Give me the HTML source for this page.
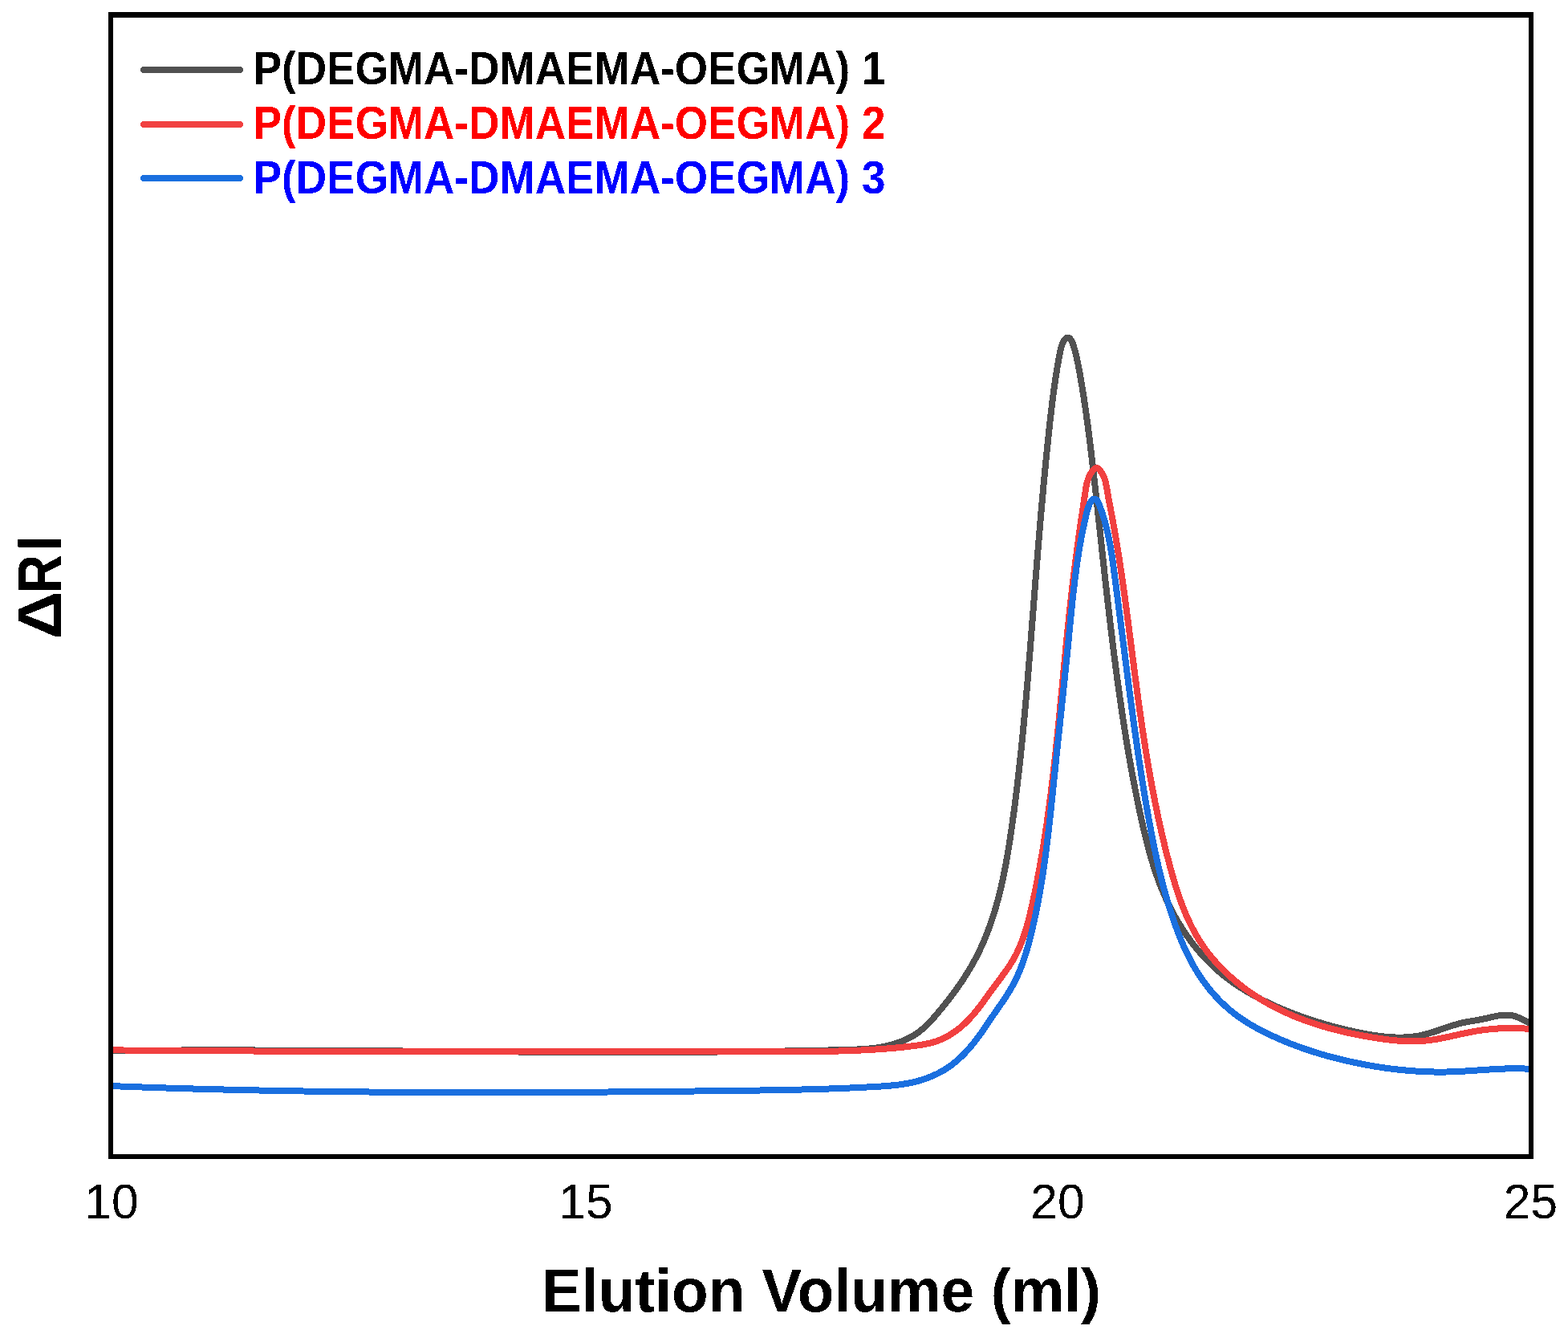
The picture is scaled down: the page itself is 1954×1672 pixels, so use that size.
<!DOCTYPE html>
<html><head><meta charset="utf-8"><title>GPC elution traces</title>
<style>
html,body{margin:0;padding:0;background:#fff;}
body{width:1954px;height:1672px;overflow:hidden;}
svg{display:block;}
text{font-family:"Liberation Sans",Arial,sans-serif;}
</style></head><body>
<svg width="1954" height="1672" viewBox="0 0 1954 1672">
<rect x="0" y="0" width="1954" height="1672" fill="#fff"/>
<defs><clipPath id="pa"><rect x="141" y="22" width="1764" height="1416"/></clipPath>
<filter id="bin" filterUnits="userSpaceOnUse" x="0" y="0" width="1954" height="1672" color-interpolation-filters="sRGB"><feComponentTransfer><feFuncA type="discrete" tableValues="0 1"/></feComponentTransfer></filter></defs>
<g clip-path="url(#pa)" shape-rendering="crispEdges" fill="none" stroke-width="8" stroke-linejoin="round" stroke-linecap="round">
<path d="M120.04,1309.22L122.04,1309.20L124.03,1309.18L126.03,1309.16L128.03,1309.13L130.03,1309.11L132.02,1309.09L134.02,1309.07L136.02,1309.05L138.01,1309.03L140.01,1309.01L142.01,1309.00L144.01,1308.98L146.00,1308.96L148.00,1308.94L150.00,1308.92L151.99,1308.91L153.99,1308.89L155.99,1308.87L157.99,1308.86L159.98,1308.84L161.98,1308.83L163.98,1308.81L165.98,1308.80L167.98,1308.78L169.97,1308.77L171.97,1308.75L173.97,1308.74L175.97,1308.73L177.96,1308.71L179.96,1308.70L181.96,1308.69L183.96,1308.68L185.96,1308.67L187.95,1308.65L189.95,1308.64L191.95,1308.63L193.95,1308.62L195.95,1308.61L197.94,1308.60L199.94,1308.59L201.94,1308.58L203.94,1308.58L205.94,1308.57L207.94,1308.56L209.93,1308.55L211.93,1308.54L213.93,1308.54L215.93,1308.53L217.93,1308.52L219.93,1308.52L221.93,1308.51L223.92,1308.50L225.92,1308.50L227.92,1308.49L229.92,1308.49L231.92,1308.48L233.92,1308.48L235.92,1308.47L237.92,1308.47L239.91,1308.46L241.91,1308.46L243.91,1308.46L245.91,1308.45L247.91,1308.45L249.91,1308.45L251.91,1308.45L253.91,1308.44L255.91,1308.44L257.90,1308.44L259.90,1308.44L261.90,1308.44L263.90,1308.44L265.90,1308.44L267.90,1308.44L269.90,1308.44L271.90,1308.44L273.90,1308.44L275.90,1308.44L277.90,1308.44L279.90,1308.44L281.90,1308.44L283.89,1308.44L285.89,1308.44L287.89,1308.44L289.89,1308.45L291.89,1308.45L293.89,1308.45L295.89,1308.45L297.89,1308.46L299.89,1308.46L301.89,1308.46L303.89,1308.47L305.89,1308.47L307.89,1308.47L309.89,1308.48L311.89,1308.48L313.89,1308.49L315.89,1308.49L317.89,1308.50L319.89,1308.50L321.89,1308.51L323.89,1308.51L325.89,1308.52L327.89,1308.52L329.89,1308.53L331.89,1308.53L333.89,1308.54L335.89,1308.55L337.89,1308.55L339.89,1308.56L341.89,1308.57L343.89,1308.57L345.89,1308.58L347.89,1308.59L349.89,1308.60L351.89,1308.60L353.89,1308.61L355.89,1308.62L357.89,1308.63L359.89,1308.64L361.89,1308.65L363.89,1308.65L365.89,1308.66L367.89,1308.67L369.89,1308.68L371.89,1308.69L373.89,1308.70L375.89,1308.71L377.89,1308.72L379.89,1308.73L381.89,1308.74L383.89,1308.75L385.89,1308.76L387.89,1308.77L389.89,1308.78L391.89,1308.79L393.89,1308.80L395.89,1308.81L397.89,1308.82L399.89,1308.83L401.90,1308.85L403.90,1308.86L405.90,1308.87L407.90,1308.88L409.90,1308.89L411.90,1308.90L413.90,1308.91L415.90,1308.93L417.90,1308.94L419.90,1308.95L421.90,1308.96L423.90,1308.98L425.90,1308.99L427.90,1309.00L429.90,1309.01L431.90,1309.03L433.90,1309.04L435.91,1309.05L437.91,1309.06L439.91,1309.08L441.91,1309.09L443.91,1309.10L445.91,1309.12L447.91,1309.13L449.91,1309.14L451.91,1309.16L453.91,1309.17L455.91,1309.18L457.91,1309.20L459.91,1309.21L461.92,1309.22L463.92,1309.24L465.92,1309.25L467.92,1309.27L469.92,1309.28L471.92,1309.29L473.92,1309.31L475.92,1309.32L477.92,1309.34L479.92,1309.35L481.92,1309.36L483.92,1309.38L485.93,1309.39L487.93,1309.41L489.93,1309.42L491.93,1309.44L493.93,1309.45L495.93,1309.47L497.93,1309.48L499.93,1309.49L501.93,1309.51L503.93,1309.52L505.93,1309.54L507.94,1309.55L509.94,1309.57L511.94,1309.58L513.94,1309.60L515.94,1309.61L517.94,1309.63L519.94,1309.64L521.94,1309.65L523.94,1309.67L525.94,1309.68L527.94,1309.70L529.95,1309.71L531.95,1309.73L533.95,1309.74L535.95,1309.76L537.95,1309.77L539.95,1309.79L541.95,1309.80L543.95,1309.82L545.95,1309.83L547.95,1309.85L549.96,1309.86L551.96,1309.87L553.96,1309.89L555.96,1309.90L557.96,1309.92L559.96,1309.93L561.96,1309.95L563.96,1309.96L565.96,1309.98L567.96,1309.99L569.96,1310.00L571.97,1310.02L573.97,1310.03L575.97,1310.05L577.97,1310.06L579.97,1310.07L581.97,1310.09L583.97,1310.10L585.97,1310.12L587.97,1310.13L589.97,1310.14L591.97,1310.16L593.98,1310.17L595.98,1310.18L597.98,1310.20L599.98,1310.21L601.98,1310.23L603.98,1310.24L605.98,1310.25L607.98,1310.26L609.98,1310.28L611.98,1310.29L613.98,1310.30L615.98,1310.32L617.99,1310.33L619.99,1310.34L621.99,1310.35L623.99,1310.37L625.99,1310.38L627.99,1310.39L629.99,1310.40L631.99,1310.42L633.99,1310.43L635.99,1310.44L637.99,1310.45L639.99,1310.46L641.99,1310.48L644.00,1310.49L646.00,1310.50L648.00,1310.51L650.00,1310.52L652.00,1310.53L654.00,1310.54L656.00,1310.55L658.00,1310.57L660.00,1310.58L662.00,1310.59L664.00,1310.60L666.00,1310.61L668.00,1310.62L670.00,1310.63L672.00,1310.64L674.00,1310.65L676.01,1310.66L678.01,1310.67L680.01,1310.68L682.01,1310.68L684.01,1310.69L686.01,1310.70L688.01,1310.71L690.01,1310.72L692.01,1310.73L694.01,1310.74L696.01,1310.75L698.01,1310.75L700.01,1310.76L702.01,1310.77L704.01,1310.78L706.01,1310.78L708.01,1310.79L710.01,1310.80L712.01,1310.80L714.01,1310.81L716.01,1310.82L718.01,1310.82L720.01,1310.83L722.01,1310.84L724.01,1310.84L726.01,1310.85L728.01,1310.85L730.01,1310.86L732.01,1310.86L734.01,1310.87L736.01,1310.87L738.01,1310.88L740.01,1310.88L742.01,1310.89L744.01,1310.89L746.01,1310.89L748.01,1310.90L750.01,1310.90L752.01,1310.90L754.01,1310.91L756.01,1310.91L758.01,1310.91L760.01,1310.92L762.01,1310.92L764.01,1310.92L766.01,1310.92L768.01,1310.92L770.01,1310.92L772.01,1310.93L774.01,1310.93L776.01,1310.93L778.01,1310.93L780.01,1310.93L782.01,1310.93L784.01,1310.93L786.01,1310.93L788.01,1310.93L790.01,1310.92L792.01,1310.92L794.01,1310.92L796.01,1310.92L798.01,1310.92L800.01,1310.92L802.01,1310.91L804.00,1310.91L806.00,1310.91L808.00,1310.90L810.00,1310.90L812.00,1310.90L814.00,1310.89L816.00,1310.89L818.00,1310.88L820.00,1310.88L822.00,1310.87L824.00,1310.87L826.00,1310.86L827.99,1310.86L829.99,1310.85L831.99,1310.84L833.99,1310.84L835.99,1310.83L837.99,1310.82L839.99,1310.82L841.99,1310.81L843.99,1310.80L845.98,1310.79L847.98,1310.78L849.98,1310.77L851.98,1310.76L853.98,1310.76L855.98,1310.75L857.98,1310.74L859.98,1310.72L861.97,1310.71L863.97,1310.70L865.97,1310.69L867.97,1310.68L869.97,1310.67L871.97,1310.66L873.96,1310.64L875.96,1310.63L877.96,1310.62L879.96,1310.60L881.96,1310.59L883.96,1310.57L885.95,1310.56L887.95,1310.55L889.95,1310.53L891.95,1310.51L893.95,1310.50L895.94,1310.48L897.94,1310.47L899.94,1310.45L901.94,1310.43L903.94,1310.41L905.93,1310.40L907.93,1310.38L909.93,1310.36L911.93,1310.34L913.93,1310.32L915.92,1310.30L917.92,1310.28L919.92,1310.26L921.92,1310.24L923.91,1310.22L925.91,1310.20L927.91,1310.18L929.91,1310.15L931.90,1310.13L933.90,1310.11L935.90,1310.09L937.89,1310.06L939.89,1310.04L941.89,1310.01L943.89,1309.99L945.88,1309.96L947.88,1309.94L949.88,1309.91L951.87,1309.89L953.87,1309.86L955.87,1309.83L957.87,1309.80L959.86,1309.78L961.86,1309.75L963.86,1309.72L965.85,1309.69L967.85,1309.66L969.85,1309.63L971.84,1309.60L973.84,1309.57L975.84,1309.54L977.83,1309.51L979.83,1309.48L981.83,1309.44L983.82,1309.41L985.82,1309.38L987.81,1309.35L989.81,1309.31L991.81,1309.28L993.80,1309.24L995.80,1309.21L997.79,1309.17L999.79,1309.14L1001.79,1309.10L1003.78,1309.06L1005.78,1309.02L1007.77,1308.99L1009.77,1308.95L1011.77,1308.91L1013.76,1308.87L1015.76,1308.83L1017.75,1308.79L1019.75,1308.75L1021.74,1308.71L1023.74,1308.67L1025.74,1308.63L1027.73,1308.58L1029.73,1308.54L1031.72,1308.50L1033.72,1308.46L1035.71,1308.41L1037.71,1308.37L1039.70,1308.32L1041.70,1308.28L1043.69,1308.23L1045.69,1308.18L1047.68,1308.14L1049.68,1308.09L1051.67,1308.04L1053.67,1307.99L1055.66,1307.94L1057.66,1307.89L1059.65,1307.84L1061.64,1307.77L1063.64,1307.71L1065.63,1307.64L1067.62,1307.55L1069.61,1307.46L1071.60,1307.37L1073.59,1307.25L1075.58,1307.13L1077.56,1307.00L1079.55,1306.85L1081.53,1306.68L1083.52,1306.50L1085.50,1306.30L1087.47,1306.08L1089.45,1305.84L1091.43,1305.59L1093.40,1305.31L1095.37,1305.00L1097.34,1304.68L1099.30,1304.33L1101.27,1303.95L1103.23,1303.55L1105.19,1303.11L1107.14,1302.65L1109.10,1302.16L1111.05,1301.64L1112.99,1301.08L1114.94,1300.50L1116.88,1299.87L1118.81,1299.22L1120.75,1298.52L1122.68,1297.79L1124.60,1297.02L1126.51,1296.21L1128.40,1295.37L1130.28,1294.50L1132.13,1293.58L1133.96,1292.63L1135.77,1291.65L1137.54,1290.63L1139.27,1289.58L1140.97,1288.49L1142.63,1287.37L1144.25,1286.22L1145.83,1285.04L1147.38,1283.83L1148.89,1282.59L1150.38,1281.32L1151.84,1280.03L1153.27,1278.71L1154.68,1277.37L1156.06,1276.01L1157.43,1274.63L1158.77,1273.23L1160.10,1271.81L1161.42,1270.38L1162.72,1268.93L1164.01,1267.46L1165.30,1265.98L1166.57,1264.50L1167.84,1263.00L1169.11,1261.49L1170.38,1259.97L1171.65,1258.45L1172.91,1256.92L1174.17,1255.38L1175.43,1253.83L1176.69,1252.28L1177.94,1250.72L1179.18,1249.15L1180.43,1247.57L1181.67,1245.99L1182.90,1244.40L1184.13,1242.80L1185.35,1241.19L1186.57,1239.58L1187.78,1237.96L1188.98,1236.33L1190.18,1234.70L1191.37,1233.06L1192.55,1231.42L1193.73,1229.76L1194.89,1228.10L1196.05,1226.44L1197.20,1224.77L1198.34,1223.09L1199.47,1221.40L1200.59,1219.71L1201.70,1218.02L1202.80,1216.32L1203.89,1214.61L1204.96,1212.90L1206.03,1211.18L1207.08,1209.45L1208.13,1207.72L1209.16,1205.99L1210.17,1204.24L1211.18,1202.50L1212.17,1200.75L1213.14,1198.99L1214.10,1197.23L1215.05,1195.46L1215.99,1193.69L1216.91,1191.91L1217.82,1190.13L1218.72,1188.35L1219.60,1186.56L1220.47,1184.76L1221.33,1182.96L1222.18,1181.15L1223.01,1179.35L1223.83,1177.53L1224.64,1175.71L1225.44,1173.89L1226.23,1172.07L1227.00,1170.23L1227.76,1168.40L1228.52,1166.56L1229.26,1164.72L1229.99,1162.87L1230.70,1161.02L1231.41,1159.16L1232.11,1157.31L1232.79,1155.44L1233.47,1153.58L1234.14,1151.71L1234.79,1149.83L1235.44,1147.96L1236.07,1146.08L1236.70,1144.19L1237.31,1142.31L1237.92,1140.41L1238.52,1138.52L1239.11,1136.62L1239.69,1134.72L1240.26,1132.82L1240.82,1130.91L1241.37,1129.01L1241.91,1127.09L1242.45,1125.18L1242.97,1123.26L1243.49,1121.34L1244.00,1119.42L1244.51,1117.49L1245.00,1115.56L1245.49,1113.63L1245.97,1111.70L1246.44,1109.76L1246.91,1107.83L1247.36,1105.89L1247.82,1103.94L1248.26,1102.00L1248.70,1100.05L1249.13,1098.10L1249.55,1096.15L1249.97,1094.20L1250.38,1092.24L1250.79,1090.29L1251.19,1088.33L1251.58,1086.37L1251.97,1084.41L1252.35,1082.44L1252.73,1080.48L1253.10,1078.51L1253.47,1076.55L1253.83,1074.58L1254.19,1072.61L1254.54,1070.63L1254.89,1068.66L1255.23,1066.69L1255.57,1064.71L1255.91,1062.74L1256.24,1060.76L1256.56,1058.78L1256.88,1056.80L1257.20,1054.82L1257.52,1052.84L1257.83,1050.86L1258.14,1048.88L1258.45,1046.90L1258.75,1044.91L1259.05,1042.93L1259.34,1040.95L1259.64,1038.96L1259.93,1036.98L1260.22,1034.99L1260.51,1033.01L1260.79,1031.02L1261.07,1029.04L1261.35,1027.05L1261.63,1025.07L1261.91,1023.08L1262.19,1021.10L1262.46,1019.11L1262.73,1017.13L1263.00,1015.14L1263.27,1013.16L1263.53,1011.17L1263.80,1009.18L1264.06,1007.20L1264.32,1005.21L1264.58,1003.23L1264.84,1001.24L1265.09,999.26L1265.34,997.27L1265.60,995.28L1265.85,993.30L1266.10,991.31L1266.34,989.32L1266.59,987.34L1266.83,985.35L1267.07,983.37L1267.31,981.38L1267.55,979.39L1267.79,977.41L1268.02,975.42L1268.26,973.43L1268.49,971.45L1268.72,969.46L1268.95,967.47L1269.18,965.48L1269.41,963.50L1269.63,961.51L1269.86,959.52L1270.08,957.54L1270.30,955.55L1270.52,953.56L1270.74,951.57L1270.95,949.59L1271.17,947.60L1271.38,945.61L1271.60,943.62L1271.81,941.64L1272.02,939.65L1272.23,937.66L1272.43,935.67L1272.64,933.68L1272.85,931.70L1273.05,929.71L1273.25,927.72L1273.45,925.73L1273.65,923.74L1273.85,921.76L1274.05,919.77L1274.25,917.78L1274.44,915.79L1274.64,913.80L1274.83,911.81L1275.03,909.82L1275.22,907.83L1275.41,905.85L1275.60,903.86L1275.79,901.87L1275.97,899.88L1276.16,897.89L1276.35,895.90L1276.53,893.91L1276.71,891.92L1276.90,889.93L1277.08,887.94L1277.26,885.95L1277.44,883.96L1277.62,881.97L1277.80,879.98L1277.98,877.99L1278.15,876.00L1278.33,874.01L1278.50,872.02L1278.68,870.03L1278.85,868.04L1279.02,866.05L1279.20,864.06L1279.37,862.07L1279.54,860.08L1279.71,858.09L1279.88,856.10L1280.05,854.11L1280.22,852.12L1280.38,850.13L1280.55,848.14L1280.72,846.14L1280.88,844.15L1281.05,842.16L1281.21,840.17L1281.38,838.18L1281.54,836.19L1281.70,834.20L1281.87,832.20L1282.03,830.21L1282.19,828.22L1282.35,826.23L1282.51,824.24L1282.67,822.24L1282.83,820.25L1282.99,818.26L1283.15,816.27L1283.31,814.28L1283.47,812.28L1283.63,810.29L1283.79,808.30L1283.95,806.31L1284.10,804.31L1284.26,802.32L1284.42,800.33L1284.57,798.33L1284.73,796.34L1284.89,794.35L1285.04,792.36L1285.20,790.36L1285.35,788.37L1285.51,786.37L1285.67,784.38L1285.82,782.39L1285.98,780.39L1286.13,778.40L1286.29,776.41L1286.44,774.41L1286.60,772.42L1286.75,770.42L1286.91,768.43L1287.06,766.44L1287.22,764.44L1287.37,762.45L1287.53,760.45L1287.68,758.46L1287.84,756.46L1287.99,754.47L1288.15,752.47L1288.31,750.48L1288.46,748.48L1288.62,746.49L1288.77,744.49L1288.93,742.50L1289.08,740.50L1289.24,738.51L1289.40,736.51L1289.55,734.52L1289.71,732.52L1289.87,730.53L1290.03,728.53L1290.18,726.54L1290.34,724.54L1290.50,722.54L1290.66,720.55L1290.81,718.55L1290.97,716.56L1291.13,714.56L1291.29,712.57L1291.45,710.57L1291.61,708.58L1291.77,706.58L1291.93,704.58L1292.09,702.59L1292.25,700.59L1292.41,698.60L1292.57,696.60L1292.73,694.61L1292.90,692.61L1293.06,690.62L1293.22,688.62L1293.38,686.63L1293.55,684.63L1293.71,682.64L1293.87,680.64L1294.04,678.65L1294.20,676.65L1294.37,674.66L1294.53,672.66L1294.70,670.67L1294.87,668.67L1295.03,666.68L1295.20,664.68L1295.37,662.69L1295.54,660.69L1295.70,658.70L1295.87,656.70L1296.04,654.71L1296.21,652.72L1296.38,650.72L1296.56,648.73L1296.73,646.73L1296.90,644.74L1297.07,642.75L1297.25,640.75L1297.42,638.76L1297.59,636.77L1297.77,634.77L1297.94,632.78L1298.12,630.79L1298.30,628.80L1298.47,626.80L1298.65,624.81L1298.83,622.82L1299.01,620.83L1299.19,618.83L1299.37,616.84L1299.55,614.85L1299.73,612.86L1299.91,610.87L1300.10,608.88L1300.28,606.89L1300.46,604.90L1300.65,602.91L1300.83,600.92L1301.02,598.93L1301.21,596.94L1301.40,594.95L1301.58,592.96L1301.77,590.97L1301.96,588.98L1302.15,586.99L1302.35,585.00L1302.54,583.01L1302.73,581.02L1302.93,579.04L1303.12,577.05L1303.32,575.06L1303.51,573.07L1303.71,571.09L1303.91,569.10L1304.11,567.11L1304.30,565.13L1304.51,563.14L1304.71,561.15L1304.91,559.17L1305.11,557.18L1305.32,555.20L1305.52,553.21L1305.73,551.23L1305.93,549.25L1306.14,547.26L1306.35,545.28L1306.56,543.29L1306.77,541.31L1306.98,539.33L1307.19,537.35L1307.40,535.36L1307.62,533.38L1307.83,531.40L1308.05,529.42L1308.27,527.44L1308.49,525.46L1308.71,523.48L1308.93,521.50L1309.15,519.52L1309.38,517.54L1309.61,515.56L1309.84,513.58L1310.07,511.60L1310.30,509.62L1310.54,507.64L1310.77,505.66L1311.02,503.68L1311.26,501.70L1311.51,499.72L1311.76,497.74L1312.01,495.76L1312.26,493.78L1312.52,491.80L1312.78,489.83L1313.05,487.85L1313.32,485.87L1313.59,483.89L1313.87,481.91L1314.15,479.93L1314.43,477.94L1314.72,475.96L1315.01,473.98L1315.31,472.00L1315.61,470.02L1315.91,468.04L1316.22,466.06L1316.54,464.07L1316.86,462.09L1317.18,460.11L1317.51,458.12L1317.84,456.14L1318.18,454.16L1318.53,452.17L1318.88,450.18L1319.23,448.20L1319.60,446.21L1319.96,444.23L1320.34,442.24L1320.71,440.25L1321.10,438.26L1321.51,436.28L1321.96,434.31L1322.48,432.37L1323.08,430.46L1323.78,428.59L1324.61,426.77L1325.59,425.01L1326.73,423.32L1328.04,421.78L1329.49,420.73L1331.04,420.53L1332.61,421.25L1334.05,422.62L1335.23,424.33L1336.14,426.22L1336.88,428.20L1337.54,430.20L1338.18,432.20L1338.77,434.18L1339.34,436.16L1339.88,438.13L1340.40,440.09L1340.89,442.05L1341.36,444.01L1341.81,445.95L1342.24,447.90L1342.65,449.84L1343.05,451.78L1343.44,453.72L1343.81,455.66L1344.18,457.60L1344.55,459.54L1344.90,461.48L1345.26,463.42L1345.61,465.36L1345.96,467.31L1346.30,469.26L1346.65,471.20L1346.98,473.15L1347.32,475.11L1347.65,477.06L1347.98,479.01L1348.31,480.97L1348.63,482.93L1348.95,484.89L1349.27,486.85L1349.58,488.81L1349.89,490.77L1350.20,492.73L1350.51,494.70L1350.81,496.67L1351.11,498.63L1351.41,500.60L1351.70,502.57L1351.99,504.54L1352.28,506.52L1352.57,508.49L1352.86,510.46L1353.14,512.44L1353.42,514.41L1353.70,516.39L1353.98,518.37L1354.25,520.35L1354.52,522.33L1354.79,524.31L1355.06,526.29L1355.32,528.27L1355.59,530.26L1355.85,532.24L1356.11,534.22L1356.37,536.21L1356.62,538.20L1356.88,540.18L1357.13,542.17L1357.38,544.16L1357.63,546.15L1357.88,548.13L1358.13,550.12L1358.37,552.11L1358.62,554.10L1358.86,556.09L1359.10,558.08L1359.34,560.08L1359.58,562.07L1359.82,564.06L1360.05,566.05L1360.29,568.04L1360.52,570.04L1360.76,572.03L1360.99,574.02L1361.22,576.02L1361.45,578.01L1361.68,580.00L1361.91,582.00L1362.13,583.99L1362.36,585.98L1362.59,587.98L1362.81,589.97L1363.04,591.96L1363.26,593.96L1363.49,595.95L1363.71,597.94L1363.94,599.93L1364.16,601.93L1364.38,603.92L1364.60,605.91L1364.83,607.90L1365.05,609.90L1365.27,611.89L1365.49,613.88L1365.71,615.87L1365.93,617.86L1366.15,619.85L1366.37,621.84L1366.59,623.84L1366.81,625.83L1367.02,627.82L1367.24,629.81L1367.46,631.80L1367.68,633.79L1367.90,635.78L1368.11,637.77L1368.33,639.76L1368.55,641.75L1368.76,643.74L1368.98,645.73L1369.20,647.72L1369.41,649.71L1369.63,651.70L1369.85,653.69L1370.06,655.68L1370.28,657.67L1370.50,659.65L1370.71,661.64L1370.93,663.63L1371.14,665.62L1371.36,667.61L1371.57,669.60L1371.79,671.58L1372.01,673.57L1372.22,675.56L1372.44,677.55L1372.65,679.54L1372.87,681.52L1373.09,683.51L1373.30,685.50L1373.52,687.49L1373.74,689.47L1373.95,691.46L1374.17,693.45L1374.39,695.43L1374.60,697.42L1374.82,699.41L1375.04,701.39L1375.26,703.38L1375.48,705.37L1375.69,707.35L1375.91,709.34L1376.13,711.32L1376.35,713.31L1376.57,715.30L1376.79,717.28L1377.01,719.27L1377.23,721.25L1377.45,723.24L1377.67,725.22L1377.89,727.21L1378.12,729.19L1378.34,731.18L1378.56,733.16L1378.78,735.15L1379.01,737.13L1379.23,739.12L1379.46,741.10L1379.68,743.09L1379.91,745.07L1380.13,747.06L1380.36,749.04L1380.59,751.02L1380.81,753.01L1381.04,754.99L1381.27,756.98L1381.50,758.96L1381.73,760.94L1381.96,762.93L1382.19,764.91L1382.42,766.89L1382.66,768.88L1382.89,770.86L1383.12,772.84L1383.36,774.83L1383.59,776.81L1383.83,778.79L1384.06,780.78L1384.30,782.76L1384.54,784.74L1384.78,786.72L1385.02,788.71L1385.26,790.69L1385.50,792.67L1385.74,794.65L1385.98,796.64L1386.23,798.62L1386.47,800.60L1386.72,802.58L1386.96,804.56L1387.21,806.55L1387.46,808.53L1387.71,810.51L1387.96,812.49L1388.21,814.47L1388.46,816.46L1388.71,818.44L1388.97,820.42L1389.22,822.40L1389.48,824.38L1389.73,826.36L1389.99,828.34L1390.25,830.32L1390.51,832.31L1390.77,834.29L1391.03,836.27L1391.30,838.25L1391.56,840.23L1391.83,842.21L1392.09,844.19L1392.36,846.17L1392.63,848.15L1392.90,850.13L1393.17,852.11L1393.44,854.09L1393.72,856.07L1393.99,858.05L1394.27,860.03L1394.54,862.01L1394.82,863.99L1395.10,865.97L1395.38,867.95L1395.67,869.93L1395.95,871.91L1396.23,873.89L1396.52,875.87L1396.81,877.85L1397.10,879.83L1397.39,881.81L1397.68,883.79L1397.97,885.77L1398.27,887.75L1398.56,889.73L1398.86,891.71L1399.16,893.69L1399.46,895.67L1399.76,897.65L1400.07,899.63L1400.37,901.60L1400.68,903.58L1400.99,905.56L1401.30,907.54L1401.61,909.52L1401.92,911.49L1402.24,913.47L1402.56,915.45L1402.87,917.42L1403.19,919.40L1403.52,921.38L1403.84,923.35L1404.16,925.33L1404.49,927.30L1404.82,929.28L1405.15,931.25L1405.48,933.23L1405.82,935.20L1406.15,937.18L1406.49,939.15L1406.83,941.12L1407.17,943.10L1407.51,945.07L1407.86,947.04L1408.21,949.01L1408.56,950.98L1408.91,952.95L1409.26,954.92L1409.62,956.89L1409.97,958.86L1410.33,960.83L1410.69,962.80L1411.06,964.77L1411.42,966.74L1411.79,968.71L1412.16,970.67L1412.53,972.64L1412.91,974.61L1413.28,976.57L1413.66,978.54L1414.04,980.50L1414.42,982.47L1414.81,984.43L1415.19,986.39L1415.58,988.36L1415.97,990.32L1416.37,992.28L1416.76,994.24L1417.16,996.20L1417.56,998.16L1417.97,1000.12L1418.37,1002.08L1418.78,1004.04L1419.19,1005.99L1419.60,1007.95L1420.02,1009.91L1420.44,1011.86L1420.86,1013.82L1421.28,1015.77L1421.70,1017.72L1422.13,1019.68L1422.56,1021.63L1422.99,1023.58L1423.43,1025.53L1423.87,1027.48L1424.31,1029.43L1424.76,1031.37L1425.21,1033.32L1425.66,1035.27L1426.12,1037.21L1426.59,1039.15L1427.05,1041.09L1427.53,1043.03L1428.00,1044.97L1428.49,1046.91L1428.98,1048.84L1429.47,1050.78L1429.97,1052.71L1430.48,1054.64L1430.99,1056.57L1431.51,1058.49L1432.03,1060.42L1432.56,1062.34L1433.10,1064.26L1433.65,1066.18L1434.20,1068.09L1434.76,1070.01L1435.33,1071.92L1435.91,1073.83L1436.50,1075.73L1437.09,1077.64L1437.69,1079.54L1438.30,1081.44L1438.92,1083.33L1439.55,1085.23L1440.19,1087.12L1440.84,1089.00L1441.49,1090.89L1442.16,1092.77L1442.84,1094.65L1443.53,1096.52L1444.22,1098.40L1444.93,1100.27L1445.65,1102.13L1446.38,1103.99L1447.13,1105.85L1447.88,1107.71L1448.64,1109.56L1449.42,1111.41L1450.21,1113.25L1451.01,1115.09L1451.81,1116.92L1452.64,1118.76L1453.47,1120.58L1454.31,1122.40L1455.17,1124.22L1456.04,1126.03L1456.91,1127.83L1457.80,1129.63L1458.71,1131.43L1459.62,1133.22L1460.54,1135.00L1461.48,1136.77L1462.43,1138.54L1463.39,1140.31L1464.36,1142.06L1465.34,1143.81L1466.33,1145.56L1467.34,1147.29L1468.36,1149.02L1469.39,1150.74L1470.43,1152.45L1471.48,1154.16L1472.54,1155.86L1473.62,1157.55L1474.71,1159.23L1475.81,1160.90L1476.92,1162.57L1478.04,1164.22L1479.18,1165.87L1480.33,1167.51L1481.49,1169.14L1482.66,1170.76L1483.84,1172.37L1485.04,1173.97L1486.24,1175.56L1487.46,1177.14L1488.69,1178.71L1489.94,1180.27L1491.19,1181.82L1492.46,1183.36L1493.74,1184.88L1495.03,1186.40L1496.33,1187.91L1497.65,1189.40L1498.98,1190.89L1500.32,1192.36L1501.67,1193.82L1503.03,1195.27L1504.41,1196.70L1505.80,1198.13L1507.20,1199.54L1508.62,1200.94L1510.04,1202.32L1511.48,1203.69L1512.93,1205.06L1514.39,1206.40L1515.87,1207.74L1517.36,1209.06L1518.86,1210.36L1520.37,1211.66L1521.90,1212.93L1523.43,1214.20L1524.98,1215.45L1526.54,1216.69L1528.12,1217.91L1529.70,1219.12L1531.30,1220.32L1532.90,1221.50L1534.52,1222.68L1536.14,1223.83L1537.78,1224.98L1539.43,1226.11L1541.08,1227.23L1542.75,1228.34L1544.43,1229.44L1546.11,1230.52L1547.80,1231.59L1549.50,1232.65L1551.21,1233.70L1552.93,1234.74L1554.66,1235.76L1556.39,1236.78L1558.13,1237.78L1559.88,1238.77L1561.63,1239.75L1563.39,1240.72L1565.16,1241.67L1566.94,1242.62L1568.72,1243.56L1570.50,1244.48L1572.29,1245.40L1574.09,1246.30L1575.89,1247.20L1577.70,1248.08L1579.51,1248.96L1581.32,1249.82L1583.14,1250.68L1584.96,1251.52L1586.79,1252.36L1588.62,1253.19L1590.45,1254.00L1592.29,1254.81L1594.13,1255.61L1595.97,1256.40L1597.82,1257.19L1599.66,1257.96L1601.51,1258.72L1603.36,1259.48L1605.21,1260.23L1607.06,1260.97L1608.92,1261.70L1610.78,1262.42L1612.64,1263.14L1614.50,1263.85L1616.36,1264.54L1618.22,1265.24L1620.09,1265.92L1621.96,1266.59L1623.83,1267.26L1625.70,1267.92L1627.58,1268.57L1629.46,1269.21L1631.34,1269.85L1633.22,1270.48L1635.10,1271.10L1636.99,1271.71L1638.88,1272.31L1640.77,1272.91L1642.67,1273.50L1644.57,1274.08L1646.47,1274.66L1648.37,1275.23L1650.27,1275.79L1652.18,1276.34L1654.09,1276.89L1656.00,1277.42L1657.92,1277.96L1659.84,1278.48L1661.76,1279.00L1663.69,1279.51L1665.61,1280.01L1667.55,1280.51L1669.48,1281.00L1671.42,1281.48L1673.36,1281.96L1675.30,1282.43L1677.25,1282.89L1679.20,1283.35L1681.15,1283.80L1683.11,1284.24L1685.07,1284.67L1687.03,1285.10L1689.00,1285.53L1690.97,1285.94L1692.94,1286.36L1694.92,1286.76L1696.90,1287.16L1698.88,1287.55L1700.86,1287.93L1702.85,1288.30L1704.84,1288.66L1706.84,1289.00L1708.83,1289.34L1710.83,1289.67L1712.83,1289.98L1714.82,1290.28L1716.82,1290.56L1718.82,1290.83L1720.83,1291.08L1722.83,1291.32L1724.83,1291.53L1726.83,1291.73L1728.83,1291.92L1730.83,1292.08L1732.83,1292.22L1734.83,1292.34L1736.82,1292.43L1738.82,1292.51L1740.81,1292.56L1742.80,1292.59L1744.79,1292.59L1746.78,1292.57L1748.76,1292.52L1750.74,1292.45L1752.72,1292.34L1754.70,1292.21L1756.67,1292.05L1758.63,1291.86L1760.60,1291.64L1762.56,1291.39L1764.51,1291.11L1766.46,1290.79L1768.41,1290.44L1770.35,1290.06L1772.28,1289.64L1774.21,1289.19L1776.13,1288.70L1778.05,1288.19L1779.97,1287.65L1781.88,1287.09L1783.79,1286.51L1785.70,1285.91L1787.60,1285.29L1789.50,1284.66L1791.40,1284.02L1793.30,1283.38L1795.20,1282.72L1797.10,1282.07L1799.00,1281.41L1800.90,1280.76L1802.80,1280.11L1804.71,1279.47L1806.61,1278.84L1808.52,1278.23L1810.43,1277.63L1812.34,1277.04L1814.26,1276.48L1816.18,1275.94L1818.10,1275.43L1820.03,1274.94L1821.97,1274.49L1823.91,1274.06L1825.85,1273.66L1827.80,1273.28L1829.76,1272.92L1831.72,1272.57L1833.68,1272.23L1835.64,1271.90L1837.61,1271.56L1839.58,1271.23L1841.55,1270.89L1843.52,1270.54L1845.49,1270.18L1847.46,1269.80L1849.44,1269.40L1851.41,1268.98L1853.38,1268.53L1855.36,1268.06L1857.33,1267.59L1859.30,1267.12L1861.27,1266.66L1863.24,1266.22L1865.21,1265.82L1867.17,1265.45L1869.14,1265.13L1871.10,1264.86L1873.06,1264.67L1875.02,1264.55L1876.98,1264.51L1878.94,1264.57L1880.89,1264.73L1882.84,1265.00L1884.78,1265.38L1886.72,1265.85L1888.65,1266.42L1890.57,1267.07L1892.47,1267.79L1894.36,1268.58L1896.23,1269.44L1898.07,1270.35L1899.90,1271.31L1901.70,1272.31L1903.48,1273.35L1905.22,1274.41L1906.94,1275.49L1908.62,1276.58L1910.26,1277.69L1911.87,1278.79L1913.44,1279.88L1914.97,1280.95" stroke="#515151"/>
<path d="M119.99,1308.17L121.99,1308.19L123.99,1308.21L125.99,1308.23L127.99,1308.25L129.99,1308.27L131.99,1308.29L133.99,1308.31L135.99,1308.33L137.99,1308.35L140.00,1308.37L142.00,1308.38L144.00,1308.40L146.00,1308.42L148.00,1308.44L150.00,1308.46L152.00,1308.48L154.00,1308.50L156.00,1308.51L158.00,1308.53L160.00,1308.55L162.00,1308.57L164.00,1308.58L166.00,1308.60L168.00,1308.62L170.00,1308.63L172.00,1308.65L174.00,1308.67L176.00,1308.68L178.01,1308.70L180.01,1308.72L182.01,1308.73L184.01,1308.75L186.01,1308.76L188.01,1308.78L190.01,1308.79L192.01,1308.81L194.01,1308.82L196.01,1308.84L198.01,1308.85L200.01,1308.87L202.01,1308.88L204.01,1308.90L206.01,1308.91L208.01,1308.93L210.01,1308.94L212.01,1308.95L214.01,1308.97L216.01,1308.98L218.01,1309.00L220.01,1309.01L222.01,1309.02L224.01,1309.03L226.01,1309.05L228.01,1309.06L230.01,1309.07L232.01,1309.09L234.01,1309.10L236.01,1309.11L238.01,1309.12L240.01,1309.13L242.01,1309.15L244.01,1309.16L246.01,1309.17L248.01,1309.18L250.01,1309.19L252.01,1309.20L254.01,1309.21L256.01,1309.23L258.01,1309.24L260.01,1309.25L262.01,1309.26L264.01,1309.27L266.01,1309.28L268.01,1309.29L270.01,1309.30L272.01,1309.31L274.01,1309.32L276.01,1309.33L278.01,1309.34L280.01,1309.35L282.01,1309.36L284.01,1309.37L286.01,1309.38L288.01,1309.39L290.01,1309.39L292.01,1309.40L294.01,1309.41L296.01,1309.42L298.01,1309.43L300.01,1309.44L302.01,1309.45L304.01,1309.45L306.01,1309.46L308.01,1309.47L310.01,1309.48L312.01,1309.49L314.01,1309.49L316.01,1309.50L318.01,1309.51L320.01,1309.52L322.01,1309.52L324.01,1309.53L326.01,1309.54L328.01,1309.55L330.01,1309.55L332.01,1309.56L334.01,1309.57L336.00,1309.57L338.00,1309.58L340.00,1309.59L342.00,1309.59L344.00,1309.60L346.00,1309.60L348.00,1309.61L350.00,1309.62L352.00,1309.62L354.00,1309.63L356.00,1309.63L358.00,1309.64L360.00,1309.64L362.00,1309.65L364.00,1309.65L366.00,1309.66L368.00,1309.67L370.00,1309.67L372.00,1309.68L374.00,1309.68L376.00,1309.68L378.00,1309.69L380.00,1309.69L382.00,1309.70L383.99,1309.70L385.99,1309.71L387.99,1309.71L389.99,1309.72L391.99,1309.72L393.99,1309.72L395.99,1309.73L397.99,1309.73L399.99,1309.74L401.99,1309.74L403.99,1309.74L405.99,1309.75L407.99,1309.75L409.99,1309.75L411.99,1309.76L413.99,1309.76L415.99,1309.76L417.99,1309.77L419.99,1309.77L421.98,1309.77L423.98,1309.78L425.98,1309.78L427.98,1309.78L429.98,1309.78L431.98,1309.79L433.98,1309.79L435.98,1309.79L437.98,1309.79L439.98,1309.80L441.98,1309.80L443.98,1309.80L445.98,1309.80L447.98,1309.80L449.98,1309.81L451.98,1309.81L453.98,1309.81L455.97,1309.81L457.97,1309.81L459.97,1309.82L461.97,1309.82L463.97,1309.82L465.97,1309.82L467.97,1309.82L469.97,1309.82L471.97,1309.82L473.97,1309.83L475.97,1309.83L477.97,1309.83L479.97,1309.83L481.97,1309.83L483.97,1309.83L485.97,1309.83L487.96,1309.83L489.96,1309.83L491.96,1309.84L493.96,1309.84L495.96,1309.84L497.96,1309.84L499.96,1309.84L501.96,1309.84L503.96,1309.84L505.96,1309.84L507.96,1309.84L509.96,1309.84L511.96,1309.84L513.96,1309.84L515.96,1309.84L517.96,1309.84L519.95,1309.84L521.95,1309.84L523.95,1309.84L525.95,1309.84L527.95,1309.84L529.95,1309.84L531.95,1309.84L533.95,1309.84L535.95,1309.84L537.95,1309.84L539.95,1309.84L541.95,1309.84L543.95,1309.84L545.95,1309.84L547.95,1309.84L549.94,1309.84L551.94,1309.84L553.94,1309.84L555.94,1309.84L557.94,1309.84L559.94,1309.84L561.94,1309.84L563.94,1309.84L565.94,1309.84L567.94,1309.84L569.94,1309.84L571.94,1309.84L573.94,1309.83L575.94,1309.83L577.94,1309.83L579.94,1309.83L581.94,1309.83L583.93,1309.83L585.93,1309.83L587.93,1309.83L589.93,1309.83L591.93,1309.83L593.93,1309.83L595.93,1309.83L597.93,1309.82L599.93,1309.82L601.93,1309.82L603.93,1309.82L605.93,1309.82L607.93,1309.82L609.93,1309.82L611.93,1309.82L613.93,1309.82L615.93,1309.82L617.93,1309.81L619.92,1309.81L621.92,1309.81L623.92,1309.81L625.92,1309.81L627.92,1309.81L629.92,1309.81L631.92,1309.81L633.92,1309.81L635.92,1309.80L637.92,1309.80L639.92,1309.80L641.92,1309.80L643.92,1309.80L645.92,1309.80L647.92,1309.80L649.92,1309.80L651.92,1309.79L653.92,1309.79L655.92,1309.79L657.92,1309.79L659.92,1309.79L661.91,1309.79L663.91,1309.79L665.91,1309.79L667.91,1309.79L669.91,1309.78L671.91,1309.78L673.91,1309.78L675.91,1309.78L677.91,1309.78L679.91,1309.78L681.91,1309.78L683.91,1309.78L685.91,1309.78L687.91,1309.77L689.91,1309.77L691.91,1309.77L693.91,1309.77L695.91,1309.77L697.91,1309.77L699.91,1309.77L701.91,1309.77L703.91,1309.77L705.91,1309.77L707.91,1309.76L709.91,1309.76L711.91,1309.76L713.91,1309.76L715.91,1309.76L717.91,1309.76L719.91,1309.76L721.91,1309.76L723.91,1309.76L725.91,1309.76L727.90,1309.76L729.90,1309.75L731.90,1309.75L733.90,1309.75L735.90,1309.75L737.90,1309.75L739.90,1309.75L741.90,1309.75L743.90,1309.75L745.90,1309.75L747.90,1309.75L749.90,1309.75L751.90,1309.75L753.90,1309.75L755.90,1309.75L757.90,1309.75L759.90,1309.75L761.90,1309.75L763.90,1309.75L765.90,1309.75L767.90,1309.75L769.90,1309.75L771.90,1309.75L773.90,1309.75L775.90,1309.75L777.90,1309.75L779.90,1309.75L781.90,1309.75L783.90,1309.75L785.90,1309.75L787.90,1309.75L789.90,1309.75L791.90,1309.75L793.90,1309.75L795.90,1309.75L797.90,1309.75L799.90,1309.75L801.90,1309.75L803.91,1309.75L805.91,1309.75L807.91,1309.75L809.91,1309.75L811.91,1309.75L813.91,1309.75L815.91,1309.75L817.91,1309.76L819.91,1309.76L821.91,1309.76L823.91,1309.76L825.91,1309.76L827.91,1309.76L829.91,1309.76L831.91,1309.76L833.91,1309.76L835.91,1309.77L837.91,1309.77L839.91,1309.77L841.91,1309.77L843.91,1309.77L845.91,1309.77L847.91,1309.78L849.91,1309.78L851.91,1309.78L853.91,1309.78L855.91,1309.78L857.91,1309.78L859.92,1309.79L861.92,1309.79L863.92,1309.79L865.92,1309.79L867.92,1309.80L869.92,1309.80L871.92,1309.80L873.92,1309.80L875.92,1309.81L877.92,1309.81L879.92,1309.81L881.92,1309.81L883.92,1309.82L885.92,1309.82L887.92,1309.82L889.93,1309.83L891.93,1309.83L893.93,1309.83L895.93,1309.84L897.93,1309.84L899.93,1309.84L901.93,1309.85L903.93,1309.85L905.93,1309.85L907.93,1309.86L909.93,1309.86L911.93,1309.87L913.94,1309.87L915.94,1309.87L917.94,1309.88L919.94,1309.88L921.94,1309.89L923.94,1309.89L925.94,1309.90L927.94,1309.90L929.94,1309.90L931.94,1309.91L933.95,1309.91L935.95,1309.92L937.95,1309.92L939.95,1309.93L941.95,1309.93L943.95,1309.94L945.95,1309.95L947.95,1309.95L949.96,1309.96L951.96,1309.96L953.96,1309.97L955.96,1309.97L957.96,1309.98L959.96,1309.99L961.96,1309.99L963.96,1310.00L965.97,1310.00L967.97,1310.01L969.97,1310.02L971.97,1310.02L973.97,1310.03L975.97,1310.03L977.97,1310.04L979.98,1310.04L981.98,1310.04L983.98,1310.05L985.98,1310.05L987.98,1310.05L989.98,1310.05L991.98,1310.05L993.98,1310.05L995.98,1310.05L997.99,1310.04L999.99,1310.04L1001.99,1310.03L1003.99,1310.03L1005.99,1310.02L1007.99,1310.01L1009.99,1310.00L1011.99,1309.98L1013.99,1309.97L1015.99,1309.95L1017.99,1309.94L1019.99,1309.92L1021.99,1309.89L1023.99,1309.87L1025.99,1309.85L1027.99,1309.82L1029.99,1309.79L1031.99,1309.76L1033.99,1309.72L1035.98,1309.69L1037.98,1309.65L1039.98,1309.61L1041.98,1309.56L1043.98,1309.52L1045.98,1309.47L1047.97,1309.42L1049.97,1309.36L1051.97,1309.30L1053.97,1309.24L1055.96,1309.18L1057.96,1309.11L1059.96,1309.04L1061.95,1308.97L1063.95,1308.90L1065.95,1308.82L1067.94,1308.73L1069.94,1308.65L1071.93,1308.56L1073.93,1308.47L1075.92,1308.37L1077.92,1308.27L1079.91,1308.17L1081.91,1308.06L1083.90,1307.95L1085.90,1307.83L1087.89,1307.71L1089.88,1307.59L1091.88,1307.46L1093.87,1307.32L1095.86,1307.19L1097.85,1307.05L1099.84,1306.90L1101.84,1306.75L1103.83,1306.60L1105.82,1306.44L1107.81,1306.27L1109.80,1306.11L1111.79,1305.93L1113.78,1305.75L1115.77,1305.57L1117.76,1305.38L1119.75,1305.19L1121.74,1304.99L1123.72,1304.79L1125.71,1304.58L1127.70,1304.36L1129.69,1304.14L1131.67,1303.92L1133.66,1303.69L1135.64,1303.45L1137.63,1303.21L1139.61,1302.96L1141.60,1302.70L1143.58,1302.43L1145.56,1302.15L1147.53,1301.84L1149.50,1301.52L1151.46,1301.18L1153.42,1300.81L1155.37,1300.41L1157.31,1299.98L1159.25,1299.52L1161.17,1299.03L1163.08,1298.49L1164.99,1297.92L1166.88,1297.30L1168.75,1296.64L1170.62,1295.93L1172.47,1295.17L1174.30,1294.36L1176.12,1293.51L1177.92,1292.61L1179.71,1291.67L1181.48,1290.69L1183.23,1289.68L1184.96,1288.62L1186.67,1287.53L1188.36,1286.40L1190.03,1285.24L1191.68,1284.04L1193.30,1282.82L1194.91,1281.57L1196.49,1280.29L1198.04,1278.99L1199.57,1277.66L1201.08,1276.31L1202.56,1274.94L1204.01,1273.54L1205.43,1272.13L1206.83,1270.71L1208.20,1269.26L1209.55,1267.81L1210.88,1266.33L1212.19,1264.84L1213.48,1263.34L1214.75,1261.82L1216.00,1260.30L1217.24,1258.76L1218.46,1257.21L1219.67,1255.65L1220.87,1254.08L1222.06,1252.50L1223.25,1250.92L1224.42,1249.32L1225.59,1247.72L1226.76,1246.12L1227.92,1244.51L1229.09,1242.89L1230.25,1241.28L1231.41,1239.65L1232.58,1238.03L1233.75,1236.41L1234.93,1234.78L1236.11,1233.16L1237.30,1231.53L1238.50,1229.91L1239.71,1228.29L1240.92,1226.66L1242.14,1225.04L1243.36,1223.42L1244.59,1221.79L1245.81,1220.16L1247.02,1218.53L1248.24,1216.90L1249.45,1215.26L1250.65,1213.62L1251.84,1211.97L1253.03,1210.32L1254.20,1208.66L1255.35,1206.99L1256.50,1205.32L1257.62,1203.64L1258.73,1201.95L1259.81,1200.25L1260.88,1198.54L1261.92,1196.82L1262.93,1195.09L1263.92,1193.35L1264.88,1191.60L1265.82,1189.84L1266.73,1188.07L1267.61,1186.28L1268.47,1184.49L1269.31,1182.68L1270.12,1180.87L1270.91,1179.05L1271.68,1177.22L1272.42,1175.38L1273.15,1173.53L1273.85,1171.67L1274.54,1169.81L1275.21,1167.94L1275.86,1166.06L1276.49,1164.17L1277.11,1162.28L1277.71,1160.38L1278.30,1158.48L1278.87,1156.57L1279.43,1154.65L1279.97,1152.73L1280.51,1150.81L1281.03,1148.88L1281.54,1146.95L1282.04,1145.01L1282.53,1143.07L1283.01,1141.13L1283.48,1139.19L1283.94,1137.24L1284.40,1135.29L1284.85,1133.34L1285.30,1131.38L1285.74,1129.43L1286.17,1127.47L1286.61,1125.52L1287.03,1123.56L1287.46,1121.60L1287.88,1119.65L1288.30,1117.69L1288.71,1115.73L1289.13,1113.77L1289.53,1111.81L1289.94,1109.85L1290.34,1107.89L1290.74,1105.93L1291.14,1103.97L1291.53,1102.01L1291.92,1100.04L1292.30,1098.08L1292.69,1096.12L1293.07,1094.15L1293.44,1092.19L1293.82,1090.23L1294.19,1088.26L1294.55,1086.30L1294.92,1084.33L1295.28,1082.36L1295.64,1080.40L1296.00,1078.43L1296.35,1076.46L1296.70,1074.49L1297.05,1072.52L1297.39,1070.56L1297.73,1068.59L1298.07,1066.62L1298.41,1064.65L1298.74,1062.68L1299.07,1060.70L1299.40,1058.73L1299.73,1056.76L1300.05,1054.79L1300.37,1052.82L1300.69,1050.84L1301.01,1048.87L1301.32,1046.90L1301.63,1044.92L1301.94,1042.95L1302.24,1040.97L1302.55,1039.00L1302.85,1037.02L1303.15,1035.05L1303.44,1033.07L1303.74,1031.10L1304.03,1029.12L1304.32,1027.14L1304.60,1025.16L1304.89,1023.19L1305.17,1021.21L1305.45,1019.23L1305.73,1017.25L1306.01,1015.27L1306.28,1013.29L1306.56,1011.31L1306.83,1009.33L1307.10,1007.35L1307.36,1005.37L1307.63,1003.39L1307.89,1001.41L1308.15,999.43L1308.41,997.45L1308.67,995.47L1308.92,993.48L1309.17,991.50L1309.43,989.52L1309.68,987.53L1309.92,985.55L1310.17,983.57L1310.42,981.58L1310.66,979.60L1310.90,977.62L1311.14,975.63L1311.38,973.65L1311.61,971.66L1311.85,969.68L1312.08,967.69L1312.32,965.71L1312.55,963.72L1312.78,961.73L1313.00,959.75L1313.23,957.76L1313.46,955.77L1313.68,953.79L1313.90,951.80L1314.12,949.81L1314.34,947.83L1314.56,945.84L1314.78,943.85L1315.00,941.86L1315.21,939.87L1315.43,937.89L1315.64,935.90L1315.85,933.91L1316.06,931.92L1316.27,929.93L1316.48,927.94L1316.69,925.95L1316.90,923.96L1317.10,921.97L1317.31,919.99L1317.51,918.00L1317.72,916.01L1317.92,914.02L1318.12,912.03L1318.32,910.04L1318.52,908.04L1318.72,906.05L1318.92,904.06L1319.12,902.07L1319.32,900.08L1319.52,898.09L1319.71,896.10L1319.91,894.11L1320.10,892.12L1320.30,890.13L1320.49,888.14L1320.69,886.14L1320.88,884.15L1321.07,882.16L1321.26,880.17L1321.46,878.18L1321.65,876.19L1321.84,874.20L1322.03,872.20L1322.22,870.21L1322.41,868.22L1322.60,866.23L1322.79,864.24L1322.98,862.24L1323.17,860.25L1323.36,858.26L1323.55,856.27L1323.74,854.28L1323.93,852.28L1324.12,850.29L1324.31,848.30L1324.50,846.31L1324.69,844.32L1324.88,842.32L1325.07,840.33L1325.26,838.34L1325.45,836.35L1325.64,834.36L1325.83,832.36L1326.02,830.37L1326.21,828.38L1326.40,826.39L1326.59,824.40L1326.78,822.40L1326.97,820.41L1327.16,818.42L1327.36,816.43L1327.55,814.44L1327.74,812.45L1327.94,810.46L1328.13,808.46L1328.33,806.47L1328.52,804.48L1328.72,802.49L1328.91,800.50L1329.11,798.51L1329.31,796.52L1329.51,794.53L1329.71,792.54L1329.91,790.55L1330.11,788.56L1330.31,786.57L1330.51,784.58L1330.71,782.59L1330.92,780.60L1331.12,778.61L1331.33,776.62L1331.54,774.63L1331.74,772.64L1331.95,770.65L1332.16,768.66L1332.37,766.67L1332.58,764.68L1332.79,762.69L1333.01,760.70L1333.22,758.71L1333.44,756.73L1333.66,754.74L1333.87,752.75L1334.09,750.76L1334.31,748.78L1334.54,746.79L1334.76,744.80L1334.98,742.81L1335.21,740.83L1335.44,738.84L1335.66,736.85L1335.89,734.87L1336.13,732.88L1336.36,730.90L1336.59,728.91L1336.83,726.93L1337.07,724.94L1337.31,722.96L1337.55,720.97L1337.79,718.99L1338.03,717.00L1338.28,715.02L1338.52,713.04L1338.77,711.05L1339.02,709.07L1339.27,707.09L1339.52,705.10L1339.77,703.12L1340.03,701.14L1340.28,699.15L1340.54,697.17L1340.80,695.19L1341.06,693.21L1341.32,691.23L1341.58,689.25L1341.85,687.27L1342.11,685.28L1342.38,683.30L1342.65,681.32L1342.91,679.34L1343.18,677.36L1343.46,675.38L1343.73,673.40L1344.00,671.42L1344.28,669.44L1344.55,667.46L1344.83,665.49L1345.11,663.51L1345.38,661.53L1345.66,659.55L1345.94,657.57L1346.23,655.59L1346.51,653.61L1346.79,651.64L1347.08,649.66L1347.36,647.68L1347.65,645.70L1347.94,643.73L1348.23,641.75L1348.52,639.77L1348.81,637.80L1349.10,635.82L1349.39,633.84L1349.68,631.87L1349.98,629.89L1350.27,627.91L1350.57,625.94L1350.86,623.96L1351.16,621.99L1351.46,620.01L1351.76,618.04L1352.06,616.06L1352.36,614.09L1352.66,612.11L1352.96,610.14L1353.28,608.17L1353.61,606.20L1353.99,604.24L1354.41,602.29L1354.89,600.36L1355.44,598.44L1356.08,596.54L1356.82,594.67L1357.66,592.82L1358.63,591.00L1359.73,589.20L1360.98,587.44L1362.38,585.73L1363.91,584.23L1365.52,583.26L1367.13,583.11L1368.71,583.89L1370.21,585.29L1371.58,586.99L1372.81,588.76L1373.88,590.57L1374.83,592.41L1375.66,594.28L1376.38,596.18L1377.01,598.09L1377.55,600.02L1378.03,601.97L1378.46,603.94L1378.84,605.91L1379.19,607.88L1379.52,609.86L1379.85,611.84L1380.19,613.82L1380.53,615.79L1380.88,617.76L1381.24,619.73L1381.61,621.69L1381.97,623.65L1382.34,625.61L1382.72,627.57L1383.09,629.53L1383.47,631.49L1383.85,633.44L1384.23,635.40L1384.60,637.36L1384.98,639.31L1385.35,641.27L1385.72,643.23L1386.08,645.19L1386.45,647.15L1386.81,649.11L1387.16,651.07L1387.52,653.03L1387.87,655.00L1388.22,656.96L1388.57,658.92L1388.92,660.89L1389.26,662.85L1389.60,664.82L1389.94,666.79L1390.27,668.75L1390.61,670.72L1390.94,672.69L1391.27,674.66L1391.60,676.63L1391.92,678.60L1392.25,680.57L1392.57,682.54L1392.89,684.51L1393.20,686.49L1393.52,688.46L1393.83,690.43L1394.14,692.41L1394.45,694.38L1394.76,696.36L1395.06,698.33L1395.37,700.31L1395.67,702.28L1395.97,704.26L1396.27,706.24L1396.57,708.22L1396.86,710.19L1397.16,712.17L1397.45,714.15L1397.74,716.13L1398.03,718.11L1398.32,720.09L1398.60,722.07L1398.89,724.05L1399.17,726.03L1399.46,728.01L1399.74,730.00L1400.02,731.98L1400.30,733.96L1400.57,735.94L1400.85,737.93L1401.12,739.91L1401.40,741.89L1401.67,743.88L1401.94,745.86L1402.21,747.85L1402.48,749.83L1402.75,751.82L1403.02,753.80L1403.29,755.79L1403.56,757.77L1403.82,759.76L1404.09,761.74L1404.35,763.73L1404.61,765.71L1404.88,767.70L1405.14,769.69L1405.40,771.67L1405.66,773.66L1405.92,775.65L1406.18,777.63L1406.44,779.62L1406.70,781.61L1406.96,783.59L1407.21,785.58L1407.47,787.57L1407.73,789.55L1407.99,791.54L1408.24,793.53L1408.50,795.52L1408.75,797.50L1409.01,799.49L1409.27,801.48L1409.52,803.46L1409.78,805.45L1410.03,807.44L1410.29,809.43L1410.54,811.41L1410.80,813.40L1411.06,815.39L1411.31,817.37L1411.57,819.36L1411.82,821.35L1412.08,823.33L1412.34,825.32L1412.59,827.30L1412.85,829.29L1413.11,831.28L1413.37,833.26L1413.62,835.25L1413.88,837.23L1414.14,839.22L1414.40,841.20L1414.66,843.19L1414.92,845.17L1415.18,847.16L1415.45,849.14L1415.71,851.12L1415.97,853.11L1416.24,855.09L1416.50,857.07L1416.77,859.05L1417.03,861.04L1417.30,863.02L1417.57,865.00L1417.84,866.98L1418.11,868.96L1418.38,870.94L1418.65,872.92L1418.92,874.90L1419.20,876.88L1419.47,878.86L1419.75,880.84L1420.03,882.82L1420.30,884.80L1420.58,886.78L1420.86,888.75L1421.15,890.73L1421.43,892.71L1421.71,894.68L1422.00,896.66L1422.29,898.63L1422.58,900.61L1422.87,902.58L1423.16,904.56L1423.45,906.53L1423.75,908.51L1424.04,910.48L1424.34,912.45L1424.64,914.43L1424.94,916.40L1425.24,918.37L1425.54,920.34L1425.85,922.31L1426.16,924.29L1426.47,926.26L1426.78,928.23L1427.09,930.20L1427.40,932.17L1427.72,934.14L1428.04,936.10L1428.36,938.07L1428.68,940.04L1429.00,942.01L1429.33,943.98L1429.65,945.95L1429.98,947.91L1430.31,949.88L1430.65,951.85L1430.98,953.81L1431.32,955.78L1431.66,957.74L1432.00,959.71L1432.34,961.67L1432.69,963.64L1433.04,965.60L1433.39,967.56L1433.74,969.53L1434.10,971.49L1434.45,973.45L1434.81,975.42L1435.17,977.38L1435.54,979.34L1435.91,981.30L1436.27,983.26L1436.65,985.22L1437.02,987.18L1437.40,989.14L1437.78,991.10L1438.16,993.06L1438.54,995.02L1438.93,996.98L1439.32,998.94L1439.71,1000.90L1440.11,1002.86L1440.50,1004.81L1440.90,1006.77L1441.31,1008.73L1441.71,1010.68L1442.12,1012.64L1442.53,1014.60L1442.95,1016.55L1443.37,1018.51L1443.79,1020.46L1444.21,1022.42L1444.64,1024.37L1445.06,1026.33L1445.50,1028.28L1445.93,1030.23L1446.37,1032.19L1446.81,1034.14L1447.26,1036.09L1447.70,1038.05L1448.16,1040.00L1448.61,1041.95L1449.07,1043.90L1449.53,1045.85L1449.99,1047.80L1450.46,1049.75L1450.93,1051.70L1451.40,1053.65L1451.88,1055.60L1452.36,1057.55L1452.85,1059.50L1453.33,1061.45L1453.82,1063.40L1454.32,1065.35L1454.82,1067.30L1455.32,1069.24L1455.82,1071.19L1456.33,1073.14L1456.85,1075.08L1457.36,1077.03L1457.88,1078.98L1458.41,1080.92L1458.94,1082.87L1459.47,1084.81L1460.01,1086.75L1460.55,1088.69L1461.10,1090.63L1461.66,1092.57L1462.22,1094.50L1462.78,1096.44L1463.36,1098.37L1463.94,1100.29L1464.53,1102.22L1465.12,1104.14L1465.72,1106.06L1466.33,1107.98L1466.95,1109.89L1467.58,1111.80L1468.21,1113.70L1468.86,1115.60L1469.51,1117.50L1470.17,1119.39L1470.84,1121.28L1471.52,1123.16L1472.21,1125.04L1472.92,1126.91L1473.63,1128.78L1474.35,1130.64L1475.09,1132.49L1475.83,1134.34L1476.59,1136.19L1477.36,1138.02L1478.14,1139.86L1478.93,1141.68L1479.74,1143.50L1480.56,1145.31L1481.39,1147.11L1482.23,1148.90L1483.09,1150.69L1483.97,1152.47L1484.85,1154.24L1485.75,1156.01L1486.67,1157.76L1487.60,1159.51L1488.55,1161.25L1489.51,1162.98L1490.49,1164.69L1491.48,1166.41L1492.49,1168.11L1493.51,1169.80L1494.56,1171.48L1495.62,1173.15L1496.69,1174.81L1497.79,1176.46L1498.90,1178.10L1500.03,1179.73L1501.17,1181.35L1502.33,1182.96L1503.51,1184.55L1504.71,1186.14L1505.92,1187.72L1507.14,1189.28L1508.39,1190.83L1509.64,1192.38L1510.92,1193.91L1512.21,1195.43L1513.51,1196.94L1514.83,1198.44L1516.16,1199.92L1517.51,1201.40L1518.87,1202.86L1520.24,1204.32L1521.63,1205.76L1523.03,1207.19L1524.44,1208.61L1525.87,1210.01L1527.31,1211.41L1528.76,1212.79L1530.23,1214.16L1531.70,1215.52L1533.19,1216.87L1534.69,1218.21L1536.20,1219.53L1537.73,1220.85L1539.26,1222.15L1540.80,1223.43L1542.36,1224.71L1543.93,1225.97L1545.50,1227.23L1547.09,1228.46L1548.68,1229.69L1550.29,1230.91L1551.90,1232.11L1553.53,1233.30L1555.16,1234.47L1556.80,1235.64L1558.45,1236.79L1560.11,1237.93L1561.77,1239.06L1563.45,1240.17L1565.13,1241.27L1566.82,1242.36L1568.52,1243.43L1570.22,1244.50L1571.93,1245.54L1573.65,1246.58L1575.37,1247.60L1577.10,1248.61L1578.84,1249.61L1580.58,1250.59L1582.33,1251.56L1584.08,1252.52L1585.84,1253.46L1587.60,1254.39L1589.37,1255.31L1591.15,1256.22L1592.93,1257.11L1594.72,1258.00L1596.51,1258.87L1598.31,1259.72L1600.11,1260.57L1601.92,1261.40L1603.73,1262.23L1605.55,1263.04L1607.37,1263.84L1609.20,1264.62L1611.03,1265.40L1612.87,1266.17L1614.71,1266.92L1616.56,1267.66L1618.41,1268.39L1620.26,1269.12L1622.12,1269.83L1623.99,1270.53L1625.86,1271.22L1627.73,1271.89L1629.61,1272.56L1631.49,1273.22L1633.37,1273.87L1635.26,1274.51L1637.15,1275.14L1639.05,1275.76L1640.95,1276.36L1642.85,1276.96L1644.75,1277.55L1646.66,1278.13L1648.58,1278.70L1650.49,1279.27L1652.41,1279.82L1654.34,1280.36L1656.26,1280.90L1658.19,1281.42L1660.12,1281.94L1662.06,1282.45L1664.00,1282.95L1665.94,1283.44L1667.88,1283.93L1669.83,1284.40L1671.77,1284.87L1673.72,1285.33L1675.68,1285.78L1677.63,1286.22L1679.59,1286.66L1681.55,1287.09L1683.51,1287.51L1685.47,1287.92L1687.44,1288.33L1689.41,1288.73L1691.38,1289.12L1693.35,1289.51L1695.32,1289.89L1697.30,1290.26L1699.27,1290.62L1701.25,1290.98L1703.23,1291.33L1705.21,1291.68L1707.19,1292.02L1709.17,1292.35L1711.16,1292.68L1713.14,1293.00L1715.13,1293.32L1717.11,1293.62L1719.10,1293.92L1721.09,1294.21L1723.08,1294.49L1725.07,1294.77L1727.06,1295.03L1729.04,1295.28L1731.03,1295.52L1733.03,1295.74L1735.02,1295.96L1737.01,1296.16L1739.00,1296.35L1740.99,1296.52L1742.98,1296.68L1744.97,1296.82L1746.95,1296.95L1748.94,1297.06L1750.93,1297.15L1752.92,1297.23L1754.90,1297.29L1756.89,1297.32L1758.88,1297.34L1760.86,1297.34L1762.84,1297.32L1764.82,1297.28L1766.80,1297.21L1768.78,1297.13L1770.76,1297.02L1772.73,1296.89L1774.71,1296.73L1776.68,1296.55L1778.65,1296.34L1780.62,1296.11L1782.59,1295.86L1784.55,1295.58L1786.52,1295.28L1788.48,1294.97L1790.44,1294.64L1792.40,1294.29L1794.36,1293.92L1796.32,1293.55L1798.28,1293.16L1800.24,1292.76L1802.20,1292.35L1804.16,1291.93L1806.12,1291.50L1808.08,1291.08L1810.04,1290.64L1812.00,1290.21L1813.96,1289.77L1815.92,1289.33L1817.88,1288.90L1819.84,1288.46L1821.81,1288.04L1823.77,1287.61L1825.74,1287.20L1827.71,1286.79L1829.68,1286.40L1831.65,1286.01L1833.62,1285.64L1835.60,1285.28L1837.58,1284.93L1839.56,1284.60L1841.54,1284.28L1843.52,1283.98L1845.50,1283.69L1847.49,1283.41L1849.48,1283.15L1851.47,1282.91L1853.45,1282.67L1855.44,1282.45L1857.44,1282.25L1859.43,1282.06L1861.42,1281.89L1863.41,1281.73L1865.40,1281.58L1867.40,1281.45L1869.39,1281.33L1871.38,1281.23L1873.38,1281.15L1875.37,1281.08L1877.36,1281.03L1879.35,1280.99L1881.35,1280.96L1883.34,1280.96L1885.33,1280.97L1887.31,1280.99L1889.30,1281.03L1891.29,1281.09L1893.27,1281.16L1895.26,1281.25L1897.24,1281.35L1899.22,1281.47L1901.20,1281.61L1903.18,1281.77L1905.15,1281.94L1907.13,1282.12L1909.10,1282.33L1911.07,1282.55L1913.03,1282.79L1915.00,1283.04" stroke="#F14040"/>
<path d="M120.00,1352.33L122.00,1352.41L124.00,1352.49L126.00,1352.57L127.99,1352.65L129.99,1352.73L131.99,1352.81L133.99,1352.89L135.99,1352.97L137.98,1353.05L139.98,1353.13L141.98,1353.21L143.98,1353.28L145.98,1353.36L147.97,1353.44L149.97,1353.51L151.97,1353.59L153.97,1353.66L155.97,1353.74L157.96,1353.81L159.96,1353.89L161.96,1353.96L163.96,1354.03L165.96,1354.11L167.95,1354.18L169.95,1354.25L171.95,1354.32L173.95,1354.39L175.95,1354.46L177.95,1354.53L179.94,1354.60L181.94,1354.67L183.94,1354.74L185.94,1354.81L187.94,1354.87L189.93,1354.94L191.93,1355.01L193.93,1355.08L195.93,1355.14L197.93,1355.21L199.93,1355.27L201.92,1355.34L203.92,1355.40L205.92,1355.47L207.92,1355.53L209.92,1355.59L211.92,1355.65L213.91,1355.72L215.91,1355.78L217.91,1355.84L219.91,1355.90L221.91,1355.96L223.91,1356.02L225.90,1356.08L227.90,1356.14L229.90,1356.20L231.90,1356.26L233.90,1356.32L235.90,1356.37L237.90,1356.43L239.89,1356.49L241.89,1356.54L243.89,1356.60L245.89,1356.66L247.89,1356.71L249.89,1356.77L251.88,1356.82L253.88,1356.88L255.88,1356.93L257.88,1356.98L259.88,1357.04L261.88,1357.09L263.88,1357.14L265.87,1357.19L267.87,1357.24L269.87,1357.29L271.87,1357.34L273.87,1357.39L275.87,1357.44L277.87,1357.49L279.86,1357.54L281.86,1357.59L283.86,1357.64L285.86,1357.69L287.86,1357.74L289.86,1357.78L291.86,1357.83L293.85,1357.88L295.85,1357.92L297.85,1357.97L299.85,1358.01L301.85,1358.06L303.85,1358.10L305.85,1358.15L307.85,1358.19L309.84,1358.23L311.84,1358.28L313.84,1358.32L315.84,1358.36L317.84,1358.40L319.84,1358.44L321.84,1358.49L323.84,1358.53L325.83,1358.57L327.83,1358.61L329.83,1358.65L331.83,1358.69L333.83,1358.73L335.83,1358.76L337.83,1358.80L339.83,1358.84L341.82,1358.88L343.82,1358.92L345.82,1358.95L347.82,1358.99L349.82,1359.03L351.82,1359.06L353.82,1359.10L355.82,1359.13L357.81,1359.17L359.81,1359.20L361.81,1359.24L363.81,1359.27L365.81,1359.30L367.81,1359.34L369.81,1359.37L371.81,1359.40L373.81,1359.43L375.80,1359.47L377.80,1359.50L379.80,1359.53L381.80,1359.56L383.80,1359.59L385.80,1359.62L387.80,1359.65L389.80,1359.68L391.80,1359.71L393.79,1359.74L395.79,1359.76L397.79,1359.79L399.79,1359.82L401.79,1359.85L403.79,1359.88L405.79,1359.90L407.79,1359.93L409.79,1359.96L411.79,1359.98L413.78,1360.01L415.78,1360.03L417.78,1360.06L419.78,1360.08L421.78,1360.11L423.78,1360.13L425.78,1360.15L427.78,1360.18L429.78,1360.20L431.78,1360.22L433.77,1360.24L435.77,1360.27L437.77,1360.29L439.77,1360.31L441.77,1360.33L443.77,1360.35L445.77,1360.37L447.77,1360.39L449.77,1360.41L451.77,1360.43L453.76,1360.45L455.76,1360.47L457.76,1360.49L459.76,1360.51L461.76,1360.53L463.76,1360.54L465.76,1360.56L467.76,1360.58L469.76,1360.60L471.76,1360.61L473.76,1360.63L475.75,1360.65L477.75,1360.66L479.75,1360.68L481.75,1360.69L483.75,1360.71L485.75,1360.72L487.75,1360.74L489.75,1360.75L491.75,1360.77L493.75,1360.78L495.75,1360.79L497.75,1360.81L499.74,1360.82L501.74,1360.83L503.74,1360.84L505.74,1360.85L507.74,1360.87L509.74,1360.88L511.74,1360.89L513.74,1360.90L515.74,1360.91L517.74,1360.92L519.74,1360.93L521.74,1360.94L523.73,1360.95L525.73,1360.96L527.73,1360.97L529.73,1360.98L531.73,1360.99L533.73,1360.99L535.73,1361.00L537.73,1361.01L539.73,1361.02L541.73,1361.02L543.73,1361.03L545.73,1361.04L547.72,1361.04L549.72,1361.05L551.72,1361.06L553.72,1361.06L555.72,1361.07L557.72,1361.07L559.72,1361.08L561.72,1361.08L563.72,1361.09L565.72,1361.09L567.72,1361.09L569.72,1361.10L571.72,1361.10L573.71,1361.11L575.71,1361.11L577.71,1361.11L579.71,1361.11L581.71,1361.12L583.71,1361.12L585.71,1361.12L587.71,1361.12L589.71,1361.12L591.71,1361.12L593.71,1361.12L595.71,1361.12L597.71,1361.13L599.70,1361.13L601.70,1361.13L603.70,1361.13L605.70,1361.12L607.70,1361.12L609.70,1361.12L611.70,1361.12L613.70,1361.12L615.70,1361.12L617.70,1361.12L619.70,1361.11L621.70,1361.11L623.70,1361.11L625.70,1361.11L627.69,1361.10L629.69,1361.10L631.69,1361.10L633.69,1361.09L635.69,1361.09L637.69,1361.09L639.69,1361.08L641.69,1361.08L643.69,1361.07L645.69,1361.07L647.69,1361.06L649.69,1361.06L651.69,1361.05L653.68,1361.05L655.68,1361.04L657.68,1361.04L659.68,1361.03L661.68,1361.02L663.68,1361.02L665.68,1361.01L667.68,1361.00L669.68,1361.00L671.68,1360.99L673.68,1360.98L675.68,1360.97L677.68,1360.96L679.68,1360.96L681.67,1360.95L683.67,1360.94L685.67,1360.93L687.67,1360.92L689.67,1360.91L691.67,1360.90L693.67,1360.89L695.67,1360.88L697.67,1360.87L699.67,1360.86L701.67,1360.85L703.67,1360.84L705.67,1360.83L707.67,1360.82L709.66,1360.81L711.66,1360.80L713.66,1360.79L715.66,1360.78L717.66,1360.77L719.66,1360.75L721.66,1360.74L723.66,1360.73L725.66,1360.72L727.66,1360.71L729.66,1360.69L731.66,1360.68L733.66,1360.67L735.65,1360.65L737.65,1360.64L739.65,1360.63L741.65,1360.61L743.65,1360.60L745.65,1360.59L747.65,1360.57L749.65,1360.56L751.65,1360.54L753.65,1360.53L755.65,1360.52L757.65,1360.50L759.65,1360.49L761.64,1360.47L763.64,1360.46L765.64,1360.44L767.64,1360.42L769.64,1360.41L771.64,1360.39L773.64,1360.38L775.64,1360.36L777.64,1360.34L779.64,1360.33L781.64,1360.31L783.64,1360.29L785.64,1360.28L787.63,1360.26L789.63,1360.24L791.63,1360.23L793.63,1360.21L795.63,1360.19L797.63,1360.17L799.63,1360.16L801.63,1360.14L803.63,1360.12L805.63,1360.10L807.63,1360.08L809.63,1360.07L811.63,1360.05L813.62,1360.03L815.62,1360.01L817.62,1359.99L819.62,1359.97L821.62,1359.95L823.62,1359.93L825.62,1359.91L827.62,1359.89L829.62,1359.87L831.62,1359.86L833.62,1359.84L835.62,1359.82L837.61,1359.80L839.61,1359.78L841.61,1359.75L843.61,1359.73L845.61,1359.71L847.61,1359.69L849.61,1359.67L851.61,1359.65L853.61,1359.63L855.61,1359.61L857.61,1359.59L859.60,1359.57L861.60,1359.55L863.60,1359.52L865.60,1359.50L867.60,1359.48L869.60,1359.46L871.60,1359.44L873.60,1359.42L875.60,1359.39L877.60,1359.37L879.60,1359.35L881.59,1359.33L883.59,1359.30L885.59,1359.28L887.59,1359.26L889.59,1359.24L891.59,1359.21L893.59,1359.19L895.59,1359.17L897.59,1359.15L899.59,1359.12L901.59,1359.10L903.58,1359.08L905.58,1359.05L907.58,1359.03L909.58,1359.01L911.58,1358.98L913.58,1358.96L915.58,1358.93L917.58,1358.91L919.58,1358.88L921.58,1358.86L923.57,1358.83L925.57,1358.81L927.57,1358.78L929.57,1358.76L931.57,1358.73L933.57,1358.70L935.57,1358.68L937.57,1358.65L939.57,1358.62L941.56,1358.59L943.56,1358.56L945.56,1358.53L947.56,1358.50L949.56,1358.47L951.56,1358.44L953.56,1358.41L955.56,1358.38L957.56,1358.35L959.55,1358.31L961.55,1358.28L963.55,1358.24L965.55,1358.21L967.55,1358.17L969.55,1358.14L971.55,1358.10L973.54,1358.06L975.54,1358.02L977.54,1357.98L979.54,1357.94L981.54,1357.90L983.54,1357.86L985.54,1357.82L987.54,1357.77L989.53,1357.73L991.53,1357.69L993.53,1357.64L995.53,1357.59L997.53,1357.54L999.53,1357.50L1001.52,1357.45L1003.52,1357.39L1005.52,1357.34L1007.52,1357.29L1009.52,1357.24L1011.52,1357.18L1013.51,1357.12L1015.51,1357.07L1017.51,1357.01L1019.51,1356.95L1021.51,1356.89L1023.51,1356.83L1025.50,1356.76L1027.50,1356.70L1029.50,1356.63L1031.50,1356.57L1033.50,1356.50L1035.49,1356.43L1037.49,1356.36L1039.49,1356.29L1041.49,1356.22L1043.49,1356.14L1045.48,1356.06L1047.48,1355.99L1049.48,1355.91L1051.48,1355.83L1053.48,1355.75L1055.47,1355.66L1057.47,1355.58L1059.47,1355.49L1061.47,1355.41L1063.47,1355.32L1065.46,1355.23L1067.46,1355.13L1069.46,1355.04L1071.46,1354.95L1073.45,1354.85L1075.45,1354.75L1077.45,1354.65L1079.45,1354.55L1081.44,1354.44L1083.44,1354.34L1085.44,1354.23L1087.43,1354.12L1089.43,1354.01L1091.43,1353.90L1093.43,1353.78L1095.42,1353.67L1097.42,1353.54L1099.41,1353.41L1101.41,1353.27L1103.40,1353.13L1105.39,1352.97L1107.39,1352.81L1109.37,1352.63L1111.36,1352.45L1113.35,1352.25L1115.33,1352.04L1117.32,1351.81L1119.29,1351.57L1121.27,1351.31L1123.25,1351.04L1125.22,1350.74L1127.19,1350.43L1129.16,1350.10L1131.12,1349.74L1133.08,1349.37L1135.04,1348.97L1136.99,1348.54L1138.94,1348.10L1140.88,1347.62L1142.82,1347.12L1144.76,1346.59L1146.69,1346.04L1148.61,1345.46L1150.53,1344.85L1152.43,1344.22L1154.33,1343.55L1156.22,1342.86L1158.09,1342.14L1159.96,1341.40L1161.81,1340.62L1163.65,1339.82L1165.48,1338.98L1167.29,1338.12L1169.08,1337.23L1170.86,1336.30L1172.62,1335.35L1174.36,1334.37L1176.08,1333.36L1177.79,1332.32L1179.47,1331.24L1181.13,1330.14L1182.77,1329.01L1184.40,1327.85L1186.00,1326.66L1187.58,1325.45L1189.15,1324.21L1190.69,1322.95L1192.22,1321.66L1193.72,1320.35L1195.21,1319.01L1196.68,1317.66L1198.13,1316.28L1199.56,1314.88L1200.98,1313.47L1202.38,1312.03L1203.76,1310.58L1205.12,1309.11L1206.47,1307.63L1207.80,1306.13L1209.11,1304.61L1210.40,1303.08L1211.68,1301.54L1212.95,1299.99L1214.19,1298.42L1215.43,1296.85L1216.64,1295.27L1217.84,1293.67L1219.03,1292.07L1220.21,1290.46L1221.38,1288.85L1222.53,1287.22L1223.68,1285.59L1224.82,1283.96L1225.95,1282.32L1227.08,1280.67L1228.20,1279.03L1229.31,1277.37L1230.43,1275.72L1231.54,1274.06L1232.66,1272.41L1233.77,1270.75L1234.89,1269.09L1236.01,1267.43L1237.13,1265.77L1238.26,1264.12L1239.40,1262.46L1240.54,1260.81L1241.68,1259.16L1242.83,1257.50L1243.98,1255.85L1245.13,1254.20L1246.27,1252.55L1247.42,1250.89L1248.56,1249.23L1249.69,1247.57L1250.82,1245.90L1251.94,1244.23L1253.05,1242.55L1254.14,1240.87L1255.23,1239.18L1256.30,1237.49L1257.35,1235.79L1258.39,1234.07L1259.41,1232.35L1260.41,1230.62L1261.38,1228.88L1262.34,1227.13L1263.27,1225.37L1264.19,1223.60L1265.08,1221.82L1265.95,1220.03L1266.81,1218.23L1267.64,1216.42L1268.46,1214.61L1269.26,1212.78L1270.04,1210.95L1270.80,1209.11L1271.55,1207.26L1272.28,1205.41L1272.99,1203.54L1273.69,1201.68L1274.38,1199.80L1275.04,1197.92L1275.70,1196.03L1276.34,1194.14L1276.97,1192.24L1277.58,1190.34L1278.19,1188.43L1278.78,1186.52L1279.36,1184.60L1279.92,1182.68L1280.48,1180.76L1281.03,1178.83L1281.56,1176.90L1282.09,1174.96L1282.61,1173.02L1283.12,1171.08L1283.62,1169.14L1284.12,1167.20L1284.60,1165.25L1285.08,1163.30L1285.56,1161.36L1286.03,1159.41L1286.49,1157.46L1286.95,1155.51L1287.40,1153.55L1287.84,1151.60L1288.28,1149.65L1288.72,1147.69L1289.15,1145.74L1289.57,1143.78L1289.99,1141.83L1290.41,1139.87L1290.82,1137.91L1291.22,1135.95L1291.62,1133.99L1292.02,1132.03L1292.41,1130.07L1292.79,1128.11L1293.17,1126.15L1293.55,1124.19L1293.92,1122.22L1294.28,1120.26L1294.65,1118.29L1295.00,1116.33L1295.36,1114.36L1295.71,1112.39L1296.05,1110.43L1296.39,1108.46L1296.73,1106.49L1297.06,1104.52L1297.39,1102.55L1297.72,1100.58L1298.04,1098.61L1298.36,1096.64L1298.67,1094.67L1298.98,1092.70L1299.29,1090.72L1299.59,1088.75L1299.89,1086.78L1300.19,1084.80L1300.48,1082.83L1300.77,1080.85L1301.06,1078.87L1301.34,1076.90L1301.62,1074.92L1301.90,1072.94L1302.17,1070.97L1302.44,1068.99L1302.71,1067.01L1302.98,1065.03L1303.24,1063.05L1303.50,1061.07L1303.76,1059.09L1304.01,1057.11L1304.26,1055.13L1304.52,1053.15L1304.76,1051.16L1305.01,1049.18L1305.25,1047.20L1305.49,1045.22L1305.73,1043.23L1305.97,1041.25L1306.20,1039.26L1306.44,1037.28L1306.67,1035.30L1306.90,1033.31L1307.13,1031.33L1307.35,1029.34L1307.58,1027.35L1307.80,1025.37L1308.02,1023.38L1308.24,1021.40L1308.46,1019.41L1308.68,1017.42L1308.89,1015.44L1309.11,1013.45L1309.32,1011.46L1309.53,1009.47L1309.75,1007.48L1309.96,1005.50L1310.17,1003.51L1310.38,1001.52L1310.58,999.53L1310.79,997.54L1311.00,995.55L1311.21,993.56L1311.41,991.57L1311.62,989.58L1311.82,987.60L1312.03,985.61L1312.23,983.62L1312.43,981.63L1312.64,979.64L1312.84,977.65L1313.05,975.66L1313.25,973.67L1313.45,971.68L1313.66,969.69L1313.86,967.70L1314.07,965.71L1314.27,963.72L1314.48,961.73L1314.68,959.74L1314.89,957.75L1315.10,955.76L1315.30,953.76L1315.51,951.77L1315.72,949.78L1315.93,947.79L1316.13,945.80L1316.34,943.81L1316.55,941.82L1316.76,939.83L1316.97,937.84L1317.18,935.85L1317.39,933.86L1317.60,931.87L1317.81,929.88L1318.02,927.89L1318.23,925.90L1318.44,923.91L1318.65,921.92L1318.86,919.93L1319.07,917.94L1319.28,915.95L1319.50,913.96L1319.71,911.97L1319.92,909.98L1320.13,907.99L1320.34,906.00L1320.55,904.01L1320.76,902.02L1320.98,900.03L1321.19,898.04L1321.40,896.05L1321.61,894.06L1321.82,892.07L1322.03,890.09L1322.25,888.10L1322.46,886.11L1322.67,884.12L1322.88,882.13L1323.09,880.14L1323.30,878.15L1323.51,876.16L1323.72,874.17L1323.93,872.18L1324.14,870.19L1324.35,868.20L1324.56,866.21L1324.77,864.22L1324.98,862.23L1325.19,860.25L1325.40,858.26L1325.61,856.27L1325.82,854.28L1326.03,852.29L1326.23,850.30L1326.44,848.31L1326.65,846.32L1326.85,844.34L1327.06,842.35L1327.27,840.36L1327.47,838.37L1327.68,836.38L1327.88,834.39L1328.09,832.41L1328.29,830.42L1328.50,828.43L1328.70,826.44L1328.90,824.45L1329.10,822.47L1329.30,820.48L1329.51,818.49L1329.71,816.50L1329.91,814.52L1330.11,812.53L1330.31,810.54L1330.50,808.55L1330.70,806.57L1330.90,804.58L1331.10,802.59L1331.29,800.61L1331.49,798.62L1331.68,796.63L1331.88,794.64L1332.07,792.66L1332.26,790.67L1332.45,788.69L1332.65,786.70L1332.84,784.71L1333.03,782.73L1333.23,780.74L1333.42,778.75L1333.61,776.77L1333.81,774.78L1334.00,772.80L1334.20,770.81L1334.39,768.83L1334.59,766.84L1334.79,764.86L1334.99,762.87L1335.19,760.89L1335.39,758.91L1335.59,756.92L1335.80,754.94L1336.00,752.96L1336.21,750.97L1336.42,748.99L1336.63,747.01L1336.85,745.02L1337.06,743.04L1337.28,741.06L1337.50,739.08L1337.72,737.10L1337.95,735.12L1338.18,733.14L1338.41,731.15L1338.64,729.17L1338.88,727.19L1339.12,725.22L1339.36,723.24L1339.61,721.26L1339.86,719.28L1340.11,717.30L1340.37,715.32L1340.63,713.34L1340.90,711.37L1341.16,709.39L1341.44,707.41L1341.71,705.44L1341.99,703.46L1342.28,701.49L1342.57,699.51L1342.86,697.54L1343.16,695.56L1343.47,693.59L1343.78,691.61L1344.09,689.64L1344.41,687.67L1344.73,685.70L1345.06,683.73L1345.40,681.75L1345.74,679.78L1346.09,677.81L1346.44,675.84L1346.79,673.87L1347.16,671.90L1347.53,669.94L1347.90,667.97L1348.29,666.00L1348.67,664.03L1349.07,662.07L1349.47,660.10L1349.88,658.14L1350.29,656.17L1350.72,654.21L1351.15,652.24L1351.58,650.28L1352.02,648.32L1352.48,646.35L1352.93,644.39L1353.40,642.43L1353.87,640.47L1354.35,638.51L1354.84,636.55L1355.35,634.60L1355.90,632.66L1356.54,630.74L1357.28,628.87L1358.17,627.04L1359.24,625.27L1360.50,623.61L1361.91,622.27L1363.39,621.53L1364.88,621.64L1366.30,622.52L1367.57,623.96L1368.62,625.76L1369.47,627.75L1370.24,629.78L1370.99,631.80L1371.72,633.83L1372.42,635.84L1373.10,637.85L1373.76,639.85L1374.41,641.85L1375.03,643.85L1375.63,645.83L1376.21,647.82L1376.78,649.80L1377.33,651.77L1377.86,653.74L1378.37,655.71L1378.87,657.67L1379.35,659.63L1379.82,661.59L1380.27,663.54L1380.71,665.49L1381.13,667.43L1381.54,669.38L1381.94,671.32L1382.33,673.26L1382.70,675.20L1383.07,677.13L1383.42,679.07L1383.77,681.00L1384.10,682.93L1384.43,684.86L1384.74,686.79L1385.05,688.72L1385.35,690.65L1385.65,692.57L1385.94,694.50L1386.22,696.43L1386.50,698.36L1386.77,700.29L1387.04,702.22L1387.30,704.15L1387.56,706.08L1387.82,708.01L1388.08,709.95L1388.33,711.88L1388.58,713.82L1388.84,715.76L1389.09,717.70L1389.34,719.65L1389.59,721.59L1389.85,723.54L1390.10,725.50L1390.35,727.45L1390.60,729.40L1390.86,731.36L1391.11,733.32L1391.36,735.28L1391.61,737.25L1391.87,739.21L1392.12,741.18L1392.37,743.15L1392.63,745.12L1392.88,747.09L1393.13,749.06L1393.38,751.04L1393.64,753.02L1393.89,754.99L1394.15,756.97L1394.40,758.95L1394.65,760.94L1394.91,762.92L1395.16,764.90L1395.41,766.89L1395.67,768.88L1395.92,770.86L1396.18,772.85L1396.43,774.84L1396.68,776.83L1396.94,778.82L1397.19,780.81L1397.45,782.81L1397.70,784.80L1397.96,786.80L1398.21,788.79L1398.47,790.78L1398.72,792.78L1398.98,794.78L1399.23,796.77L1399.49,798.77L1399.74,800.77L1400.00,802.76L1400.25,804.76L1400.51,806.76L1400.76,808.76L1401.02,810.75L1401.28,812.75L1401.53,814.75L1401.79,816.75L1402.04,818.74L1402.30,820.74L1402.56,822.74L1402.81,824.73L1403.07,826.73L1403.33,828.72L1403.58,830.72L1403.84,832.71L1404.10,834.71L1404.36,836.70L1404.61,838.69L1404.87,840.68L1405.13,842.68L1405.39,844.67L1405.65,846.66L1405.90,848.65L1406.16,850.64L1406.42,852.63L1406.68,854.62L1406.94,856.60L1407.20,858.59L1407.46,860.58L1407.72,862.57L1407.99,864.55L1408.25,866.54L1408.51,868.52L1408.77,870.51L1409.04,872.49L1409.30,874.48L1409.56,876.46L1409.83,878.44L1410.10,880.43L1410.36,882.41L1410.63,884.39L1410.90,886.37L1411.16,888.35L1411.43,890.34L1411.70,892.32L1411.97,894.30L1412.24,896.28L1412.51,898.26L1412.79,900.23L1413.06,902.21L1413.33,904.19L1413.61,906.17L1413.88,908.15L1414.16,910.12L1414.44,912.10L1414.72,914.08L1415.00,916.05L1415.28,918.03L1415.56,920.00L1415.84,921.98L1416.12,923.95L1416.41,925.93L1416.69,927.90L1416.98,929.88L1417.26,931.85L1417.55,933.83L1417.84,935.80L1418.13,937.77L1418.42,939.74L1418.72,941.72L1419.01,943.69L1419.31,945.66L1419.60,947.63L1419.90,949.60L1420.20,951.57L1420.50,953.55L1420.80,955.52L1421.10,957.49L1421.41,959.46L1421.71,961.43L1422.02,963.40L1422.33,965.37L1422.64,967.34L1422.95,969.31L1423.26,971.27L1423.57,973.24L1423.89,975.21L1424.21,977.18L1424.53,979.15L1424.85,981.12L1425.17,983.09L1425.49,985.05L1425.82,987.02L1426.14,988.99L1426.47,990.96L1426.80,992.92L1427.13,994.89L1427.46,996.86L1427.80,998.83L1428.14,1000.79L1428.47,1002.76L1428.81,1004.73L1429.16,1006.69L1429.50,1008.66L1429.85,1010.63L1430.19,1012.59L1430.54,1014.56L1430.89,1016.53L1431.25,1018.49L1431.60,1020.46L1431.96,1022.42L1432.32,1024.39L1432.68,1026.36L1433.04,1028.32L1433.41,1030.29L1433.78,1032.25L1434.15,1034.22L1434.52,1036.18L1434.90,1038.14L1435.28,1040.11L1435.66,1042.07L1436.04,1044.03L1436.43,1046.00L1436.82,1047.96L1437.21,1049.92L1437.61,1051.88L1438.01,1053.84L1438.41,1055.80L1438.82,1057.76L1439.23,1059.72L1439.65,1061.68L1440.06,1063.63L1440.48,1065.59L1440.91,1067.54L1441.34,1069.50L1441.77,1071.45L1442.21,1073.41L1442.65,1075.36L1443.10,1077.31L1443.54,1079.26L1444.00,1081.21L1444.46,1083.15L1444.92,1085.10L1445.39,1087.05L1445.86,1088.99L1446.34,1090.94L1446.82,1092.88L1447.30,1094.82L1447.80,1096.76L1448.29,1098.70L1448.79,1100.63L1449.30,1102.57L1449.81,1104.51L1450.33,1106.44L1450.85,1108.37L1451.38,1110.30L1451.91,1112.23L1452.45,1114.16L1453.00,1116.08L1453.55,1118.01L1454.11,1119.93L1454.67,1121.85L1455.24,1123.77L1455.81,1125.69L1456.39,1127.60L1456.98,1129.52L1457.58,1131.43L1458.18,1133.34L1458.78,1135.25L1459.39,1137.16L1460.01,1139.06L1460.64,1140.96L1461.27,1142.87L1461.91,1144.76L1462.56,1146.66L1463.22,1148.56L1463.88,1150.45L1464.55,1152.34L1465.23,1154.22L1465.91,1156.11L1466.61,1157.98L1467.31,1159.86L1468.03,1161.73L1468.75,1163.60L1469.48,1165.46L1470.22,1167.32L1470.97,1169.18L1471.73,1171.03L1472.50,1172.87L1473.28,1174.71L1474.07,1176.55L1474.87,1178.38L1475.68,1180.20L1476.51,1182.02L1477.34,1183.83L1478.19,1185.64L1479.05,1187.43L1479.92,1189.23L1480.80,1191.01L1481.70,1192.79L1482.61,1194.56L1483.53,1196.32L1484.47,1198.08L1485.41,1199.83L1486.38,1201.57L1487.35,1203.30L1488.34,1205.03L1489.34,1206.74L1490.36,1208.45L1491.39,1210.15L1492.44,1211.83L1493.50,1213.51L1494.58,1215.18L1495.68,1216.84L1496.78,1218.49L1497.91,1220.13L1499.05,1221.76L1500.21,1223.38L1501.38,1224.99L1502.57,1226.59L1503.78,1228.18L1505.01,1229.75L1506.25,1231.31L1507.51,1232.87L1508.78,1234.41L1510.07,1235.94L1511.38,1237.45L1512.71,1238.95L1514.05,1240.44L1515.40,1241.92L1516.77,1243.38L1518.16,1244.83L1519.56,1246.27L1520.98,1247.69L1522.41,1249.10L1523.86,1250.49L1525.32,1251.86L1526.79,1253.23L1528.28,1254.57L1529.79,1255.90L1531.31,1257.21L1532.84,1258.51L1534.38,1259.79L1535.94,1261.06L1537.51,1262.30L1539.10,1263.53L1540.69,1264.75L1542.30,1265.94L1543.93,1267.12L1545.56,1268.27L1547.21,1269.41L1548.87,1270.53L1550.54,1271.64L1552.22,1272.72L1553.91,1273.79L1555.61,1274.84L1557.32,1275.87L1559.04,1276.89L1560.77,1277.89L1562.51,1278.88L1564.26,1279.85L1566.01,1280.81L1567.77,1281.76L1569.54,1282.70L1571.31,1283.62L1573.09,1284.54L1574.87,1285.44L1576.66,1286.33L1578.45,1287.21L1580.25,1288.09L1582.05,1288.95L1583.85,1289.81L1585.66,1290.65L1587.48,1291.49L1589.29,1292.32L1591.11,1293.13L1592.94,1293.94L1594.77,1294.74L1596.60,1295.53L1598.43,1296.31L1600.27,1297.09L1602.12,1297.85L1603.96,1298.60L1605.81,1299.35L1607.67,1300.09L1609.53,1300.82L1611.39,1301.54L1613.25,1302.25L1615.12,1302.95L1616.99,1303.64L1618.86,1304.33L1620.74,1305.01L1622.62,1305.68L1624.50,1306.34L1626.39,1306.99L1628.28,1307.64L1630.17,1308.27L1632.06,1308.90L1633.96,1309.52L1635.86,1310.13L1637.77,1310.74L1639.67,1311.33L1641.58,1311.92L1643.49,1312.50L1645.41,1313.08L1647.32,1313.64L1649.24,1314.20L1651.16,1314.75L1653.09,1315.29L1655.01,1315.83L1656.94,1316.35L1658.87,1316.88L1660.80,1317.39L1662.74,1317.89L1664.68,1318.39L1666.62,1318.88L1668.56,1319.37L1670.50,1319.85L1672.44,1320.32L1674.39,1320.78L1676.34,1321.24L1678.29,1321.69L1680.24,1322.13L1682.19,1322.56L1684.15,1322.99L1686.11,1323.42L1688.06,1323.83L1690.02,1324.24L1691.99,1324.64L1693.95,1325.04L1695.91,1325.43L1697.88,1325.81L1699.84,1326.19L1701.81,1326.56L1703.78,1326.92L1705.75,1327.28L1707.72,1327.63L1709.70,1327.97L1711.67,1328.31L1713.64,1328.64L1715.62,1328.96L1717.60,1329.28L1719.58,1329.59L1721.55,1329.89L1723.53,1330.18L1725.52,1330.47L1727.50,1330.75L1729.48,1331.02L1731.46,1331.28L1733.45,1331.54L1735.43,1331.79L1737.42,1332.03L1739.41,1332.27L1741.39,1332.49L1743.38,1332.71L1745.37,1332.93L1747.36,1333.13L1749.35,1333.33L1751.34,1333.51L1753.33,1333.70L1755.33,1333.87L1757.32,1334.03L1759.31,1334.19L1761.31,1334.34L1763.30,1334.48L1765.29,1334.61L1767.29,1334.73L1769.28,1334.85L1771.28,1334.96L1773.27,1335.05L1775.27,1335.14L1777.27,1335.23L1779.26,1335.30L1781.26,1335.36L1783.26,1335.42L1785.25,1335.47L1787.25,1335.51L1789.25,1335.54L1791.25,1335.56L1793.24,1335.57L1795.24,1335.57L1797.24,1335.57L1799.24,1335.55L1801.23,1335.53L1803.23,1335.50L1805.23,1335.45L1807.22,1335.40L1809.22,1335.34L1811.22,1335.27L1813.21,1335.19L1815.21,1335.11L1817.20,1335.02L1819.20,1334.92L1821.20,1334.81L1823.19,1334.70L1825.19,1334.58L1827.18,1334.46L1829.18,1334.33L1831.17,1334.20L1833.17,1334.07L1835.16,1333.93L1837.16,1333.79L1839.15,1333.65L1841.15,1333.51L1843.14,1333.37L1845.14,1333.23L1847.13,1333.09L1849.13,1332.96L1851.12,1332.82L1853.12,1332.68L1855.11,1332.55L1857.10,1332.42L1859.10,1332.30L1861.09,1332.18L1863.09,1332.07L1865.08,1331.96L1867.08,1331.86L1869.07,1331.76L1871.07,1331.67L1873.06,1331.59L1875.06,1331.52L1877.05,1331.45L1879.05,1331.40L1881.05,1331.35L1883.04,1331.32L1885.04,1331.29L1887.03,1331.28L1889.03,1331.28L1891.03,1331.30L1893.02,1331.32L1895.02,1331.36L1897.02,1331.41L1899.01,1331.48L1901.01,1331.57L1903.01,1331.67L1905.01,1331.78L1907.01,1331.92L1909.00,1332.07L1911.00,1332.23L1913.00,1332.42L1915.00,1332.63" stroke="#1A6FDF"/>
</g>
<g fill="#000">
<rect x="135" y="15" width="1776" height="7"/>
<rect x="135" y="1438" width="1776" height="6"/>
<rect x="135" y="15" width="6" height="1429"/>
<rect x="1905" y="15" width="6" height="1429"/>
</g>
<g stroke-width="8" stroke-linecap="round" shape-rendering="crispEdges">
<line x1="179" y1="87" x2="299" y2="87" stroke="#515151"/>
<line x1="179" y1="155" x2="299" y2="155" stroke="#F14040"/>
<line x1="179" y1="222" x2="299" y2="222" stroke="#1A6FDF"/>
</g>
<g filter="url(#bin)">
<g font-weight="bold" font-size="56.5">
<text x="315.5" y="105" fill="#000" textLength="788" lengthAdjust="spacingAndGlyphs">P(DEGMA-DMAEMA-OEGMA) 1</text>
<text x="315.5" y="173" fill="#FF0000" textLength="788" lengthAdjust="spacingAndGlyphs">P(DEGMA-DMAEMA-OEGMA) 2</text>
<text x="315.5" y="240.6" fill="#0000FF" textLength="788" lengthAdjust="spacingAndGlyphs">P(DEGMA-DMAEMA-OEGMA) 3</text>
</g>
<g font-size="60.5" text-anchor="middle" fill="#000">
<text x="139" y="1518">10</text>
<text x="730" y="1518">15</text>
<text x="1318" y="1518">20</text>
<text x="1907.5" y="1518">25</text>
</g>
<text x="675" y="1634" font-size="76.7" font-weight="bold" fill="#000" textLength="697" lengthAdjust="spacingAndGlyphs">Elution Volume (ml)</text>
<text transform="translate(76,792.6) rotate(-90)" font-size="77" font-weight="bold" fill="#000"><tspan x="-3.34" textLength="59.22" lengthAdjust="spacingAndGlyphs">Δ</tspan><tspan x="53.42" textLength="48.35" lengthAdjust="spacingAndGlyphs">R</tspan><tspan x="106.25" textLength="18.9" lengthAdjust="spacingAndGlyphs">I</tspan></text>
</g>
</svg>
</body></html>
